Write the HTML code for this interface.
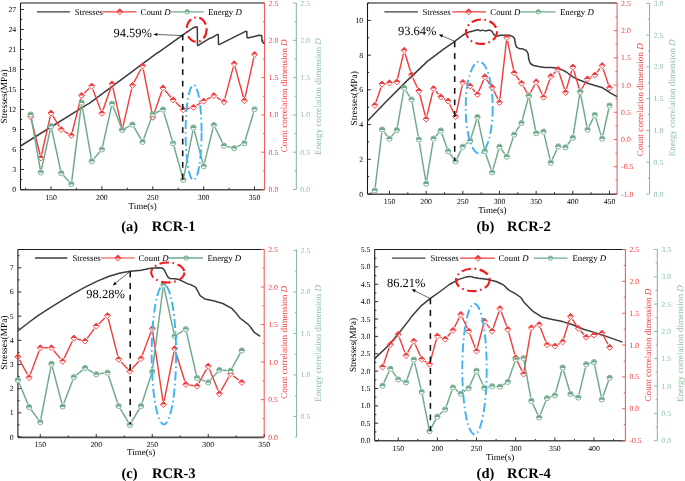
<!DOCTYPE html>
<html><head><meta charset="utf-8"><style>
html,body{margin:0;padding:0;background:#fff;}
body{width:685px;height:481px;overflow:hidden;}
svg{display:block;font-family:"Liberation Serif", serif;text-rendering:geometricPrecision;filter:blur(0.3px);}
</style></head><body>
<svg width="685" height="481" viewBox="0 0 685 481">
<rect width="685" height="481" fill="#fff"/>
<line x1="20.5" y1="3" x2="264.6" y2="3" stroke="#1a1a1a" stroke-width="1.1" />
<line x1="20.5" y1="189.7" x2="264.6" y2="189.7" stroke="#4a4a4a" stroke-width="1.6" />
<line x1="20.5" y1="3" x2="20.5" y2="189.5" stroke="#1a1a1a" stroke-width="1.1" />
<line x1="264.6" y1="3" x2="264.6" y2="189.5" stroke="#f05050" stroke-width="1" />
<line x1="296.3" y1="3" x2="296.3" y2="189.5" stroke="#80b598" stroke-width="1" />
<line x1="51.03" y1="189.5" x2="51.03" y2="186.3" stroke="#1a1a1a" stroke-width="0.9" />
<text x="51.03" y="199.5" font-size="7.8" fill="#000" text-anchor="middle" >150</text>
<line x1="101.9" y1="189.5" x2="101.9" y2="186.3" stroke="#1a1a1a" stroke-width="0.9" />
<text x="101.9" y="199.5" font-size="7.8" fill="#000" text-anchor="middle" >200</text>
<line x1="152.78" y1="189.5" x2="152.78" y2="186.3" stroke="#1a1a1a" stroke-width="0.9" />
<text x="152.78" y="199.5" font-size="7.8" fill="#000" text-anchor="middle" >250</text>
<line x1="203.65" y1="189.5" x2="203.65" y2="186.3" stroke="#1a1a1a" stroke-width="0.9" />
<text x="203.65" y="199.5" font-size="7.8" fill="#000" text-anchor="middle" >300</text>
<line x1="254.53" y1="189.5" x2="254.53" y2="186.3" stroke="#1a1a1a" stroke-width="0.9" />
<text x="254.53" y="199.5" font-size="7.8" fill="#000" text-anchor="middle" >350</text>
<line x1="25.59" y1="189.5" x2="25.59" y2="187.8" stroke="#1a1a1a" stroke-width="0.9" />
<line x1="76.46" y1="189.5" x2="76.46" y2="187.8" stroke="#1a1a1a" stroke-width="0.9" />
<line x1="127.34" y1="189.5" x2="127.34" y2="187.8" stroke="#1a1a1a" stroke-width="0.9" />
<line x1="178.21" y1="189.5" x2="178.21" y2="187.8" stroke="#1a1a1a" stroke-width="0.9" />
<line x1="229.09" y1="189.5" x2="229.09" y2="187.8" stroke="#1a1a1a" stroke-width="0.9" />
<line x1="20.5" y1="189.5" x2="23.9" y2="189.5" stroke="#1a1a1a" stroke-width="0.9" />
<text x="16.2" y="192" font-size="7.8" fill="#000" text-anchor="end" >0</text>
<line x1="20.5" y1="169.5" x2="23.9" y2="169.5" stroke="#1a1a1a" stroke-width="0.9" />
<text x="16.2" y="172" font-size="7.8" fill="#000" text-anchor="end" >3</text>
<line x1="20.5" y1="149.5" x2="23.9" y2="149.5" stroke="#1a1a1a" stroke-width="0.9" />
<text x="16.2" y="152" font-size="7.8" fill="#000" text-anchor="end" >6</text>
<line x1="20.5" y1="129.5" x2="23.9" y2="129.5" stroke="#1a1a1a" stroke-width="0.9" />
<text x="16.2" y="132" font-size="7.8" fill="#000" text-anchor="end" >9</text>
<line x1="20.5" y1="109.5" x2="23.9" y2="109.5" stroke="#1a1a1a" stroke-width="0.9" />
<text x="16.2" y="112" font-size="7.8" fill="#000" text-anchor="end" >12</text>
<line x1="20.5" y1="89.5" x2="23.9" y2="89.5" stroke="#1a1a1a" stroke-width="0.9" />
<text x="16.2" y="92" font-size="7.8" fill="#000" text-anchor="end" >15</text>
<line x1="20.5" y1="69.49" x2="23.9" y2="69.49" stroke="#1a1a1a" stroke-width="0.9" />
<text x="16.2" y="71.99" font-size="7.8" fill="#000" text-anchor="end" >18</text>
<line x1="20.5" y1="49.49" x2="23.9" y2="49.49" stroke="#1a1a1a" stroke-width="0.9" />
<text x="16.2" y="51.99" font-size="7.8" fill="#000" text-anchor="end" >21</text>
<line x1="20.5" y1="29.49" x2="23.9" y2="29.49" stroke="#1a1a1a" stroke-width="0.9" />
<text x="16.2" y="31.99" font-size="7.8" fill="#000" text-anchor="end" >24</text>
<line x1="20.5" y1="9.49" x2="23.9" y2="9.49" stroke="#1a1a1a" stroke-width="0.9" />
<text x="16.2" y="11.99" font-size="7.8" fill="#000" text-anchor="end" >27</text>
<line x1="20.5" y1="179.5" x2="22.2" y2="179.5" stroke="#1a1a1a" stroke-width="0.9" />
<line x1="20.5" y1="159.5" x2="22.2" y2="159.5" stroke="#1a1a1a" stroke-width="0.9" />
<line x1="20.5" y1="139.5" x2="22.2" y2="139.5" stroke="#1a1a1a" stroke-width="0.9" />
<line x1="20.5" y1="119.5" x2="22.2" y2="119.5" stroke="#1a1a1a" stroke-width="0.9" />
<line x1="20.5" y1="99.5" x2="22.2" y2="99.5" stroke="#1a1a1a" stroke-width="0.9" />
<line x1="20.5" y1="79.49" x2="22.2" y2="79.49" stroke="#1a1a1a" stroke-width="0.9" />
<line x1="20.5" y1="59.49" x2="22.2" y2="59.49" stroke="#1a1a1a" stroke-width="0.9" />
<line x1="20.5" y1="39.49" x2="22.2" y2="39.49" stroke="#1a1a1a" stroke-width="0.9" />
<line x1="20.5" y1="19.49" x2="22.2" y2="19.49" stroke="#1a1a1a" stroke-width="0.9" />
<line x1="264.6" y1="189.5" x2="261.2" y2="189.5" stroke="#f05050" stroke-width="0.9" />
<text x="268.6" y="192" font-size="7.8" fill="#f03c3c" text-anchor="start" >0.0</text>
<line x1="264.6" y1="152.2" x2="261.2" y2="152.2" stroke="#f05050" stroke-width="0.9" />
<text x="268.6" y="154.7" font-size="7.8" fill="#f03c3c" text-anchor="start" >0.5</text>
<line x1="264.6" y1="114.9" x2="261.2" y2="114.9" stroke="#f05050" stroke-width="0.9" />
<text x="268.6" y="117.4" font-size="7.8" fill="#f03c3c" text-anchor="start" >1.0</text>
<line x1="264.6" y1="77.6" x2="261.2" y2="77.6" stroke="#f05050" stroke-width="0.9" />
<text x="268.6" y="80.1" font-size="7.8" fill="#f03c3c" text-anchor="start" >1.5</text>
<line x1="264.6" y1="40.3" x2="261.2" y2="40.3" stroke="#f05050" stroke-width="0.9" />
<text x="268.6" y="42.8" font-size="7.8" fill="#f03c3c" text-anchor="start" >2.0</text>
<line x1="264.6" y1="3" x2="261.2" y2="3" stroke="#f05050" stroke-width="0.9" />
<text x="268.6" y="5.5" font-size="7.8" fill="#f03c3c" text-anchor="start" >2.5</text>
<line x1="264.6" y1="170.85" x2="262.9" y2="170.85" stroke="#f05050" stroke-width="0.9" />
<line x1="264.6" y1="133.55" x2="262.9" y2="133.55" stroke="#f05050" stroke-width="0.9" />
<line x1="264.6" y1="96.25" x2="262.9" y2="96.25" stroke="#f05050" stroke-width="0.9" />
<line x1="264.6" y1="58.95" x2="262.9" y2="58.95" stroke="#f05050" stroke-width="0.9" />
<line x1="264.6" y1="21.65" x2="262.9" y2="21.65" stroke="#f05050" stroke-width="0.9" />
<line x1="296.3" y1="189.5" x2="292.9" y2="189.5" stroke="#80b598" stroke-width="0.9" />
<text x="300.3" y="192" font-size="7.8" fill="#8cbfa3" text-anchor="start" >0.0</text>
<line x1="296.3" y1="152.2" x2="292.9" y2="152.2" stroke="#80b598" stroke-width="0.9" />
<text x="300.3" y="154.7" font-size="7.8" fill="#8cbfa3" text-anchor="start" >0.5</text>
<line x1="296.3" y1="114.9" x2="292.9" y2="114.9" stroke="#80b598" stroke-width="0.9" />
<text x="300.3" y="117.4" font-size="7.8" fill="#8cbfa3" text-anchor="start" >1.0</text>
<line x1="296.3" y1="77.6" x2="292.9" y2="77.6" stroke="#80b598" stroke-width="0.9" />
<text x="300.3" y="80.1" font-size="7.8" fill="#8cbfa3" text-anchor="start" >1.5</text>
<line x1="296.3" y1="40.3" x2="292.9" y2="40.3" stroke="#80b598" stroke-width="0.9" />
<text x="300.3" y="42.8" font-size="7.8" fill="#8cbfa3" text-anchor="start" >2.0</text>
<line x1="296.3" y1="3" x2="292.9" y2="3" stroke="#80b598" stroke-width="0.9" />
<text x="300.3" y="5.5" font-size="7.8" fill="#8cbfa3" text-anchor="start" >2.5</text>
<line x1="296.3" y1="170.85" x2="294.6" y2="170.85" stroke="#80b598" stroke-width="0.9" />
<line x1="296.3" y1="133.55" x2="294.6" y2="133.55" stroke="#80b598" stroke-width="0.9" />
<line x1="296.3" y1="96.25" x2="294.6" y2="96.25" stroke="#80b598" stroke-width="0.9" />
<line x1="296.3" y1="58.95" x2="294.6" y2="58.95" stroke="#80b598" stroke-width="0.9" />
<line x1="296.3" y1="21.65" x2="294.6" y2="21.65" stroke="#80b598" stroke-width="0.9" />
<text x="7.3" y="96.5" font-size="9.4" fill="#000" text-anchor="middle" transform="rotate(-90 7.3 96.5)">Stresses(MPa)</text>
<text x="142.7" y="208.7" font-size="9" fill="#000" text-anchor="middle" >Time(s)</text>
<text x="287" y="95.9" font-size="9.1" fill="#f03c3c" text-anchor="middle" transform="rotate(-90 287 95.9)">Count correlation dimension <tspan font-style="italic">D</tspan></text>
<text x="321" y="96.5" font-size="9.1" fill="#8cbfa3" text-anchor="middle" transform="rotate(-90 321 96.5)">Energy correlation dimension <tspan font-style="italic">D</tspan></text>
<polyline fill="none" stroke="#3c3c3c" stroke-width="1.5" stroke-linejoin="round" points="20.5,146 86.5,104.9 89.3,103.4 120,80.6 157.3,52.8 158.5,52.3 182.6,35.2 193.5,27.7 196.1,26.8 197.3,27.3 197.5,45.4 198.2,45.4 209.6,38.3 211.2,38.1 217.4,34.4 218.3,34.6 218.5,44.3 219.2,44.6 245.5,31.3 246.8,31.5 247,37.6 247.6,37.9 254.3,36.5 259,35.2 261.6,35.5 262.1,41.2 264.2,43.8"/>
<line x1="31.52" y1="120.4" x2="40.01" y2="154.5" stroke="#f03c3c" stroke-width="1.4" stroke-linecap="butt"/>
<line x1="41.62" y1="154.49" x2="50.25" y2="116.41" stroke="#f03c3c" stroke-width="1.4" stroke-linecap="butt"/>
<line x1="52.86" y1="115.98" x2="59.36" y2="126.52" stroke="#f03c3c" stroke-width="1.4" stroke-linecap="butt"/>
<line x1="64.23" y1="131.26" x2="68.35" y2="133.64" stroke="#f03c3c" stroke-width="1.4" stroke-linecap="butt"/>
<line x1="72.24" y1="132.01" x2="80.69" y2="98.79" stroke="#f03c3c" stroke-width="1.4" stroke-linecap="butt"/>
<line x1="84.13" y1="93.04" x2="89.14" y2="88.46" stroke="#f03c3c" stroke-width="1.4" stroke-linecap="butt"/>
<line x1="92.95" y1="89.38" x2="100.67" y2="110.02" stroke="#f03c3c" stroke-width="1.4" stroke-linecap="butt"/>
<line x1="103.04" y1="109.99" x2="110.93" y2="87.21" stroke="#f03c3c" stroke-width="1.4" stroke-linecap="butt"/>
<line x1="112.84" y1="87.32" x2="121.49" y2="126.08" stroke="#f03c3c" stroke-width="1.4" stroke-linecap="butt"/>
<line x1="123.04" y1="126.09" x2="131.64" y2="88.81" stroke="#f03c3c" stroke-width="1.4" stroke-linecap="butt"/>
<line x1="134.04" y1="82.3" x2="140.98" y2="69" stroke="#f03c3c" stroke-width="1.4" stroke-linecap="butt"/>
<line x1="143.28" y1="69.33" x2="152.09" y2="113.77" stroke="#f03c3c" stroke-width="1.4" stroke-linecap="butt"/>
<line x1="153.92" y1="113.89" x2="161.8" y2="91.21" stroke="#f03c3c" stroke-width="1.4" stroke-linecap="butt"/>
<line x1="165.21" y1="90.57" x2="170.86" y2="97.23" stroke="#f03c3c" stroke-width="1.4" stroke-linecap="butt"/>
<line x1="175.63" y1="102.34" x2="180.79" y2="107.36" stroke="#f03c3c" stroke-width="1.4" stroke-linecap="butt"/>
<line x1="186.7" y1="108.96" x2="190.08" y2="108.14" stroke="#f03c3c" stroke-width="1.4" stroke-linecap="butt"/>
<line x1="196.46" y1="105.48" x2="200.66" y2="102.92" stroke="#f03c3c" stroke-width="1.4" stroke-linecap="butt"/>
<line x1="206.73" y1="99.44" x2="210.75" y2="97.26" stroke="#f03c3c" stroke-width="1.4" stroke-linecap="butt"/>
<line x1="216.81" y1="97.42" x2="221.01" y2="99.98" stroke="#f03c3c" stroke-width="1.4" stroke-linecap="butt"/>
<line x1="224.9" y1="98.42" x2="233.27" y2="67.08" stroke="#f03c3c" stroke-width="1.4" stroke-linecap="butt"/>
<line x1="235.11" y1="67.07" x2="243.42" y2="97.23" stroke="#f03c3c" stroke-width="1.4" stroke-linecap="butt"/>
<line x1="245.1" y1="97.18" x2="253.77" y2="57.92" stroke="#f03c3c" stroke-width="1.4" stroke-linecap="butt"/>
<path d="M27.62 117L30.68 113.95L33.73 117Z" fill="#f03c3c"/>
<path d="M27.62 117L30.68 113.95L33.73 117L30.68 120.05Z" fill="none" stroke="#f03c3c" stroke-width="0.9"/>
<path d="M37.8 157.9L40.85 154.85L43.9 157.9Z" fill="#f03c3c"/>
<path d="M37.8 157.9L40.85 154.85L43.9 157.9L40.85 160.95Z" fill="none" stroke="#f03c3c" stroke-width="0.9"/>
<path d="M47.98 113L51.03 109.95L54.08 113Z" fill="#f03c3c"/>
<path d="M47.98 113L51.03 109.95L54.08 113L51.03 116.05Z" fill="none" stroke="#f03c3c" stroke-width="0.9"/>
<path d="M58.15 129.5L61.2 126.45L64.25 129.5Z" fill="#f03c3c"/>
<path d="M58.15 129.5L61.2 126.45L64.25 129.5L61.2 132.55Z" fill="none" stroke="#f03c3c" stroke-width="0.9"/>
<path d="M68.33 135.4L71.38 132.35L74.42 135.4Z" fill="#f03c3c"/>
<path d="M68.33 135.4L71.38 132.35L74.42 135.4L71.38 138.45Z" fill="none" stroke="#f03c3c" stroke-width="0.9"/>
<path d="M78.5 95.4L81.55 92.35L84.6 95.4Z" fill="#f03c3c"/>
<path d="M78.5 95.4L81.55 92.35L84.6 95.4L81.55 98.45Z" fill="none" stroke="#f03c3c" stroke-width="0.9"/>
<path d="M88.68 86.1L91.73 83.05L94.78 86.1Z" fill="#f03c3c"/>
<path d="M88.68 86.1L91.73 83.05L94.78 86.1L91.73 89.15Z" fill="none" stroke="#f03c3c" stroke-width="0.9"/>
<path d="M98.85 113.3L101.9 110.25L104.95 113.3Z" fill="#f03c3c"/>
<path d="M98.85 113.3L101.9 110.25L104.95 113.3L101.9 116.35Z" fill="none" stroke="#f03c3c" stroke-width="0.9"/>
<path d="M109.03 83.9L112.08 80.85L115.12 83.9Z" fill="#f03c3c"/>
<path d="M109.03 83.9L112.08 80.85L115.12 83.9L112.08 86.95Z" fill="none" stroke="#f03c3c" stroke-width="0.9"/>
<path d="M119.2 129.5L122.25 126.45L125.3 129.5Z" fill="#f03c3c"/>
<path d="M119.2 129.5L122.25 126.45L125.3 129.5L122.25 132.55Z" fill="none" stroke="#f03c3c" stroke-width="0.9"/>
<path d="M129.38 85.4L132.43 82.35L135.48 85.4Z" fill="#f03c3c"/>
<path d="M129.38 85.4L132.43 82.35L135.48 85.4L132.43 88.45Z" fill="none" stroke="#f03c3c" stroke-width="0.9"/>
<path d="M139.55 65.9L142.6 62.85L145.65 65.9Z" fill="#f03c3c"/>
<path d="M139.55 65.9L142.6 62.85L145.65 65.9L142.6 68.95Z" fill="none" stroke="#f03c3c" stroke-width="0.9"/>
<path d="M149.72 117.2L152.78 114.15L155.83 117.2Z" fill="#f03c3c"/>
<path d="M149.72 117.2L152.78 114.15L155.83 117.2L152.78 120.25Z" fill="none" stroke="#f03c3c" stroke-width="0.9"/>
<path d="M159.9 87.9L162.95 84.85L166 87.9Z" fill="#f03c3c"/>
<path d="M159.9 87.9L162.95 84.85L166 87.9L162.95 90.95Z" fill="none" stroke="#f03c3c" stroke-width="0.9"/>
<path d="M170.07 99.9L173.12 96.85L176.18 99.9Z" fill="#f03c3c"/>
<path d="M170.07 99.9L173.12 96.85L176.18 99.9L173.12 102.95Z" fill="none" stroke="#f03c3c" stroke-width="0.9"/>
<path d="M180.25 109.8L183.3 106.75L186.35 109.8Z" fill="#f03c3c"/>
<path d="M180.25 109.8L183.3 106.75L186.35 109.8L183.3 112.85Z" fill="none" stroke="#f03c3c" stroke-width="0.9"/>
<path d="M190.43 107.3L193.48 104.25L196.53 107.3Z" fill="#f03c3c"/>
<path d="M190.43 107.3L193.48 104.25L196.53 107.3L193.48 110.35Z" fill="none" stroke="#f03c3c" stroke-width="0.9"/>
<path d="M200.6 101.1L203.65 98.05L206.7 101.1Z" fill="#f03c3c"/>
<path d="M200.6 101.1L203.65 98.05L206.7 101.1L203.65 104.15Z" fill="none" stroke="#f03c3c" stroke-width="0.9"/>
<path d="M210.78 95.6L213.83 92.55L216.88 95.6Z" fill="#f03c3c"/>
<path d="M210.78 95.6L213.83 92.55L216.88 95.6L213.83 98.65Z" fill="none" stroke="#f03c3c" stroke-width="0.9"/>
<path d="M220.95 101.8L224 98.75L227.05 101.8Z" fill="#f03c3c"/>
<path d="M220.95 101.8L224 98.75L227.05 101.8L224 104.85Z" fill="none" stroke="#f03c3c" stroke-width="0.9"/>
<path d="M231.12 63.7L234.18 60.65L237.23 63.7Z" fill="#f03c3c"/>
<path d="M231.12 63.7L234.18 60.65L237.23 63.7L234.18 66.75Z" fill="none" stroke="#f03c3c" stroke-width="0.9"/>
<path d="M241.3 100.6L244.35 97.55L247.4 100.6Z" fill="#f03c3c"/>
<path d="M241.3 100.6L244.35 97.55L247.4 100.6L244.35 103.65Z" fill="none" stroke="#f03c3c" stroke-width="0.9"/>
<path d="M251.47 54.5L254.53 51.45L257.57 54.5Z" fill="#f03c3c"/>
<path d="M251.47 54.5L254.53 51.45L257.57 54.5L254.53 57.55Z" fill="none" stroke="#f03c3c" stroke-width="0.9"/>
<line x1="31.26" y1="117.85" x2="40.26" y2="169.05" stroke="#6fa98b" stroke-width="1.45" stroke-linecap="butt"/>
<line x1="41.58" y1="169.08" x2="50.29" y2="129.52" stroke="#6fa98b" stroke-width="1.45" stroke-linecap="butt"/>
<line x1="51.75" y1="129.52" x2="60.48" y2="169.78" stroke="#6fa98b" stroke-width="1.45" stroke-linecap="butt"/>
<line x1="63.51" y1="175.6" x2="69.07" y2="181.6" stroke="#6fa98b" stroke-width="1.45" stroke-linecap="butt"/>
<line x1="71.8" y1="180.73" x2="81.13" y2="105.87" stroke="#6fa98b" stroke-width="1.45" stroke-linecap="butt"/>
<line x1="82.13" y1="105.85" x2="91.14" y2="157.85" stroke="#6fa98b" stroke-width="1.45" stroke-linecap="butt"/>
<line x1="93.95" y1="158.63" x2="99.68" y2="151.97" stroke="#6fa98b" stroke-width="1.45" stroke-linecap="butt"/>
<line x1="102.64" y1="146.08" x2="111.34" y2="107.02" stroke="#6fa98b" stroke-width="1.45" stroke-linecap="butt"/>
<line x1="113.3" y1="106.87" x2="121.02" y2="126.83" stroke="#6fa98b" stroke-width="1.45" stroke-linecap="butt"/>
<line x1="125.24" y1="128.38" x2="129.43" y2="126.12" stroke="#6fa98b" stroke-width="1.45" stroke-linecap="butt"/>
<line x1="134.14" y1="127.44" x2="140.88" y2="138.96" stroke="#6fa98b" stroke-width="1.45" stroke-linecap="butt"/>
<line x1="143.77" y1="138.71" x2="151.6" y2="117.39" stroke="#6fa98b" stroke-width="1.45" stroke-linecap="butt"/>
<line x1="155.86" y1="112.77" x2="159.86" y2="110.93" stroke="#6fa98b" stroke-width="1.45" stroke-linecap="butt"/>
<line x1="163.93" y1="112.75" x2="172.14" y2="139.95" stroke="#6fa98b" stroke-width="1.45" stroke-linecap="butt"/>
<line x1="174.03" y1="146.48" x2="182.39" y2="176.62" stroke="#6fa98b" stroke-width="1.45" stroke-linecap="butt"/>
<line x1="183.95" y1="176.56" x2="192.83" y2="130.84" stroke="#6fa98b" stroke-width="1.45" stroke-linecap="butt"/>
<line x1="194.34" y1="130.79" x2="202.79" y2="162.91" stroke="#6fa98b" stroke-width="1.45" stroke-linecap="butt"/>
<line x1="204.47" y1="162.9" x2="213.01" y2="128.3" stroke="#6fa98b" stroke-width="1.45" stroke-linecap="butt"/>
<line x1="215.32" y1="128.05" x2="222.5" y2="142.65" stroke="#6fa98b" stroke-width="1.45" stroke-linecap="butt"/>
<line x1="227.3" y1="146.51" x2="230.87" y2="147.39" stroke="#6fa98b" stroke-width="1.45" stroke-linecap="butt"/>
<line x1="237.23" y1="146.7" x2="241.3" y2="144.7" stroke="#6fa98b" stroke-width="1.45" stroke-linecap="butt"/>
<line x1="245.32" y1="139.94" x2="253.55" y2="112.46" stroke="#6fa98b" stroke-width="1.45" stroke-linecap="butt"/>
<circle cx="30.68" cy="114.5" r="2.6" fill="#fff" stroke="#6fa98b" stroke-width="0.9"/>
<path d="M28.07 114.9A2.6 2.6 0 0 1 33.27 114.9Z" fill="#6fa98b"/>
<circle cx="40.85" cy="172.4" r="2.6" fill="#fff" stroke="#6fa98b" stroke-width="0.9"/>
<path d="M38.25 172.8A2.6 2.6 0 0 1 43.45 172.8Z" fill="#6fa98b"/>
<circle cx="51.03" cy="126.2" r="2.6" fill="#fff" stroke="#6fa98b" stroke-width="0.9"/>
<path d="M48.43 126.6A2.6 2.6 0 0 1 53.63 126.6Z" fill="#6fa98b"/>
<circle cx="61.2" cy="173.1" r="2.6" fill="#fff" stroke="#6fa98b" stroke-width="0.9"/>
<path d="M58.6 173.5A2.6 2.6 0 0 1 63.8 173.5Z" fill="#6fa98b"/>
<circle cx="71.38" cy="184.1" r="2.6" fill="#fff" stroke="#6fa98b" stroke-width="0.9"/>
<path d="M68.78 184.5A2.6 2.6 0 0 1 73.97 184.5Z" fill="#6fa98b"/>
<circle cx="81.55" cy="102.5" r="2.6" fill="#fff" stroke="#6fa98b" stroke-width="0.9"/>
<path d="M78.95 102.9A2.6 2.6 0 0 1 84.15 102.9Z" fill="#6fa98b"/>
<circle cx="91.73" cy="161.2" r="2.6" fill="#fff" stroke="#6fa98b" stroke-width="0.9"/>
<path d="M89.13 161.6A2.6 2.6 0 0 1 94.33 161.6Z" fill="#6fa98b"/>
<circle cx="101.9" cy="149.4" r="2.6" fill="#fff" stroke="#6fa98b" stroke-width="0.9"/>
<path d="M99.3 149.8A2.6 2.6 0 0 1 104.5 149.8Z" fill="#6fa98b"/>
<circle cx="112.08" cy="103.7" r="2.6" fill="#fff" stroke="#6fa98b" stroke-width="0.9"/>
<path d="M109.48 104.1A2.6 2.6 0 0 1 114.67 104.1Z" fill="#6fa98b"/>
<circle cx="122.25" cy="130" r="2.6" fill="#fff" stroke="#6fa98b" stroke-width="0.9"/>
<path d="M119.65 130.4A2.6 2.6 0 0 1 124.85 130.4Z" fill="#6fa98b"/>
<circle cx="132.43" cy="124.5" r="2.6" fill="#fff" stroke="#6fa98b" stroke-width="0.9"/>
<path d="M129.83 124.9A2.6 2.6 0 0 1 135.03 124.9Z" fill="#6fa98b"/>
<circle cx="142.6" cy="141.9" r="2.6" fill="#fff" stroke="#6fa98b" stroke-width="0.9"/>
<path d="M140 142.3A2.6 2.6 0 0 1 145.2 142.3Z" fill="#6fa98b"/>
<circle cx="152.78" cy="114.2" r="2.6" fill="#fff" stroke="#6fa98b" stroke-width="0.9"/>
<path d="M150.18 114.6A2.6 2.6 0 0 1 155.38 114.6Z" fill="#6fa98b"/>
<circle cx="162.95" cy="109.5" r="2.6" fill="#fff" stroke="#6fa98b" stroke-width="0.9"/>
<path d="M160.35 109.9A2.6 2.6 0 0 1 165.55 109.9Z" fill="#6fa98b"/>
<circle cx="173.12" cy="143.2" r="2.6" fill="#fff" stroke="#6fa98b" stroke-width="0.9"/>
<path d="M170.53 143.6A2.6 2.6 0 0 1 175.72 143.6Z" fill="#6fa98b"/>
<circle cx="183.3" cy="179.9" r="2.6" fill="#fff" stroke="#6fa98b" stroke-width="0.9"/>
<path d="M180.7 180.3A2.6 2.6 0 0 1 185.9 180.3Z" fill="#6fa98b"/>
<circle cx="193.48" cy="127.5" r="2.6" fill="#fff" stroke="#6fa98b" stroke-width="0.9"/>
<path d="M190.88 127.9A2.6 2.6 0 0 1 196.08 127.9Z" fill="#6fa98b"/>
<circle cx="203.65" cy="166.2" r="2.6" fill="#fff" stroke="#6fa98b" stroke-width="0.9"/>
<path d="M201.05 166.6A2.6 2.6 0 0 1 206.25 166.6Z" fill="#6fa98b"/>
<circle cx="213.83" cy="125" r="2.6" fill="#fff" stroke="#6fa98b" stroke-width="0.9"/>
<path d="M211.23 125.4A2.6 2.6 0 0 1 216.43 125.4Z" fill="#6fa98b"/>
<circle cx="224" cy="145.7" r="2.6" fill="#fff" stroke="#6fa98b" stroke-width="0.9"/>
<path d="M221.4 146.1A2.6 2.6 0 0 1 226.6 146.1Z" fill="#6fa98b"/>
<circle cx="234.18" cy="148.2" r="2.6" fill="#fff" stroke="#6fa98b" stroke-width="0.9"/>
<path d="M231.58 148.6A2.6 2.6 0 0 1 236.78 148.6Z" fill="#6fa98b"/>
<circle cx="244.35" cy="143.2" r="2.6" fill="#fff" stroke="#6fa98b" stroke-width="0.9"/>
<path d="M241.75 143.6A2.6 2.6 0 0 1 246.95 143.6Z" fill="#6fa98b"/>
<circle cx="254.53" cy="109.2" r="2.6" fill="#fff" stroke="#6fa98b" stroke-width="0.9"/>
<path d="M251.93 109.6A2.6 2.6 0 0 1 257.12 109.6Z" fill="#6fa98b"/>
<line x1="182.7" y1="34.4" x2="182.7" y2="180" stroke="#111" stroke-width="1.55" stroke-dasharray="5.8 5.8"/>
<line x1="182.5" y1="35.6" x2="157.3" y2="34.48" stroke="#000" stroke-width="0.6" />
<path d="M153.3 34.3L157.37 32.88L157.22 36.08Z" fill="#000"/>
<text x="113.4" y="37.2" font-size="12.5" fill="#000" text-anchor="start" >94.59%</text>
<ellipse cx="196.6" cy="29.6" rx="10" ry="12.2" fill="none" stroke="#ee1c1c" stroke-width="2.1" stroke-dasharray="9.5 3.6 1.6 3.6"/>
<ellipse cx="193.6" cy="132.5" rx="8" ry="47.5" fill="none" stroke="#3cb4f0" stroke-width="1.9" stroke-dasharray="9 3.2 1.6 3.2"/>
<line x1="37" y1="11.8" x2="70" y2="11.8" stroke="#3c3c3c" stroke-width="1.3" />
<text x="74.7" y="14.8" font-size="8.8" fill="#000" text-anchor="start" >Stresses</text>
<line x1="103" y1="11.8" x2="136.5" y2="11.8" stroke="#f03c3c" stroke-width="1.2" />
<path d="M116.65 11.8L119.7 8.75L122.75 11.8Z" fill="#f03c3c"/>
<path d="M116.65 11.8L119.7 8.75L122.75 11.8L119.7 14.85Z" fill="none" stroke="#f03c3c" stroke-width="0.9"/>
<text x="140.6" y="14.8" font-size="8.8" fill="#000" text-anchor="start" >Count <tspan font-style="italic">D</tspan></text>
<line x1="171.2" y1="11.8" x2="203.7" y2="11.8" stroke="#6fa98b" stroke-width="1.3" />
<circle cx="187.2" cy="11.8" r="2.2" fill="#fff" stroke="#6fa98b" stroke-width="0.9"/>
<path d="M185 12.2A2.2 2.2 0 0 1 189.4 12.2Z" fill="#6fa98b"/>
<text x="208" y="14.8" font-size="8.8" fill="#000" text-anchor="start" >Energy <tspan font-style="italic">D</tspan></text>
<text x="121.2" y="231" font-size="14.5" fill="#000" text-anchor="start" font-weight="bold" >(a)</text>
<text x="151.7" y="231" font-size="14.6" fill="#000" text-anchor="start" font-weight="bold" >RCR-1</text>
<line x1="367.5" y1="3" x2="617.1" y2="3" stroke="#1a1a1a" stroke-width="1.1" />
<line x1="367.5" y1="194.2" x2="617.1" y2="194.2" stroke="#4a4a4a" stroke-width="1.6" />
<line x1="367.5" y1="3" x2="367.5" y2="194" stroke="#1a1a1a" stroke-width="1.1" />
<line x1="617.1" y1="3" x2="617.1" y2="194" stroke="#f05050" stroke-width="1" />
<line x1="649.6" y1="3" x2="649.6" y2="194" stroke="#80b598" stroke-width="1" />
<line x1="389.5" y1="194" x2="389.5" y2="190.8" stroke="#1a1a1a" stroke-width="0.9" />
<text x="389.5" y="204" font-size="7.8" fill="#000" text-anchor="middle" >150</text>
<line x1="426.16" y1="194" x2="426.16" y2="190.8" stroke="#1a1a1a" stroke-width="0.9" />
<text x="426.16" y="204" font-size="7.8" fill="#000" text-anchor="middle" >200</text>
<line x1="462.83" y1="194" x2="462.83" y2="190.8" stroke="#1a1a1a" stroke-width="0.9" />
<text x="462.83" y="204" font-size="7.8" fill="#000" text-anchor="middle" >250</text>
<line x1="499.49" y1="194" x2="499.49" y2="190.8" stroke="#1a1a1a" stroke-width="0.9" />
<text x="499.49" y="204" font-size="7.8" fill="#000" text-anchor="middle" >300</text>
<line x1="536.16" y1="194" x2="536.16" y2="190.8" stroke="#1a1a1a" stroke-width="0.9" />
<text x="536.16" y="204" font-size="7.8" fill="#000" text-anchor="middle" >350</text>
<line x1="572.82" y1="194" x2="572.82" y2="190.8" stroke="#1a1a1a" stroke-width="0.9" />
<text x="572.82" y="204" font-size="7.8" fill="#000" text-anchor="middle" >400</text>
<line x1="609.49" y1="194" x2="609.49" y2="190.8" stroke="#1a1a1a" stroke-width="0.9" />
<text x="609.49" y="204" font-size="7.8" fill="#000" text-anchor="middle" >450</text>
<line x1="371.17" y1="194" x2="371.17" y2="192.3" stroke="#1a1a1a" stroke-width="0.9" />
<line x1="407.83" y1="194" x2="407.83" y2="192.3" stroke="#1a1a1a" stroke-width="0.9" />
<line x1="444.5" y1="194" x2="444.5" y2="192.3" stroke="#1a1a1a" stroke-width="0.9" />
<line x1="481.16" y1="194" x2="481.16" y2="192.3" stroke="#1a1a1a" stroke-width="0.9" />
<line x1="517.83" y1="194" x2="517.83" y2="192.3" stroke="#1a1a1a" stroke-width="0.9" />
<line x1="554.49" y1="194" x2="554.49" y2="192.3" stroke="#1a1a1a" stroke-width="0.9" />
<line x1="591.16" y1="194" x2="591.16" y2="192.3" stroke="#1a1a1a" stroke-width="0.9" />
<line x1="367.5" y1="194" x2="370.9" y2="194" stroke="#1a1a1a" stroke-width="0.9" />
<text x="363.2" y="196.5" font-size="7.8" fill="#000" text-anchor="end" >0</text>
<line x1="367.5" y1="159.28" x2="370.9" y2="159.28" stroke="#1a1a1a" stroke-width="0.9" />
<text x="363.2" y="161.78" font-size="7.8" fill="#000" text-anchor="end" >2</text>
<line x1="367.5" y1="124.56" x2="370.9" y2="124.56" stroke="#1a1a1a" stroke-width="0.9" />
<text x="363.2" y="127.06" font-size="7.8" fill="#000" text-anchor="end" >4</text>
<line x1="367.5" y1="89.84" x2="370.9" y2="89.84" stroke="#1a1a1a" stroke-width="0.9" />
<text x="363.2" y="92.34" font-size="7.8" fill="#000" text-anchor="end" >6</text>
<line x1="367.5" y1="55.12" x2="370.9" y2="55.12" stroke="#1a1a1a" stroke-width="0.9" />
<text x="363.2" y="57.62" font-size="7.8" fill="#000" text-anchor="end" >8</text>
<line x1="367.5" y1="20.4" x2="370.9" y2="20.4" stroke="#1a1a1a" stroke-width="0.9" />
<text x="363.2" y="22.9" font-size="7.8" fill="#000" text-anchor="end" >10</text>
<line x1="367.5" y1="176.64" x2="369.2" y2="176.64" stroke="#1a1a1a" stroke-width="0.9" />
<line x1="367.5" y1="141.92" x2="369.2" y2="141.92" stroke="#1a1a1a" stroke-width="0.9" />
<line x1="367.5" y1="107.2" x2="369.2" y2="107.2" stroke="#1a1a1a" stroke-width="0.9" />
<line x1="367.5" y1="72.48" x2="369.2" y2="72.48" stroke="#1a1a1a" stroke-width="0.9" />
<line x1="367.5" y1="37.76" x2="369.2" y2="37.76" stroke="#1a1a1a" stroke-width="0.9" />
<line x1="367.5" y1="3.04" x2="369.2" y2="3.04" stroke="#1a1a1a" stroke-width="0.9" />
<line x1="617.1" y1="194" x2="613.7" y2="194" stroke="#f05050" stroke-width="0.9" />
<text x="621.1" y="196.5" font-size="7.8" fill="#f03c3c" text-anchor="start" >-1.0</text>
<line x1="617.1" y1="166.77" x2="613.7" y2="166.77" stroke="#f05050" stroke-width="0.9" />
<text x="621.1" y="169.27" font-size="7.8" fill="#f03c3c" text-anchor="start" >-0.5</text>
<line x1="617.1" y1="139.54" x2="613.7" y2="139.54" stroke="#f05050" stroke-width="0.9" />
<text x="621.1" y="142.04" font-size="7.8" fill="#f03c3c" text-anchor="start" >0.0</text>
<line x1="617.1" y1="112.31" x2="613.7" y2="112.31" stroke="#f05050" stroke-width="0.9" />
<text x="621.1" y="114.81" font-size="7.8" fill="#f03c3c" text-anchor="start" >0.5</text>
<line x1="617.1" y1="85.08" x2="613.7" y2="85.08" stroke="#f05050" stroke-width="0.9" />
<text x="621.1" y="87.58" font-size="7.8" fill="#f03c3c" text-anchor="start" >1.0</text>
<line x1="617.1" y1="57.85" x2="613.7" y2="57.85" stroke="#f05050" stroke-width="0.9" />
<text x="621.1" y="60.35" font-size="7.8" fill="#f03c3c" text-anchor="start" >1.5</text>
<line x1="617.1" y1="30.62" x2="613.7" y2="30.62" stroke="#f05050" stroke-width="0.9" />
<text x="621.1" y="33.12" font-size="7.8" fill="#f03c3c" text-anchor="start" >2.0</text>
<line x1="617.1" y1="3.39" x2="613.7" y2="3.39" stroke="#f05050" stroke-width="0.9" />
<text x="621.1" y="5.89" font-size="7.8" fill="#f03c3c" text-anchor="start" >2.5</text>
<line x1="617.1" y1="180.38" x2="615.4" y2="180.38" stroke="#f05050" stroke-width="0.9" />
<line x1="617.1" y1="153.16" x2="615.4" y2="153.16" stroke="#f05050" stroke-width="0.9" />
<line x1="617.1" y1="125.92" x2="615.4" y2="125.92" stroke="#f05050" stroke-width="0.9" />
<line x1="617.1" y1="98.69" x2="615.4" y2="98.69" stroke="#f05050" stroke-width="0.9" />
<line x1="617.1" y1="71.47" x2="615.4" y2="71.47" stroke="#f05050" stroke-width="0.9" />
<line x1="617.1" y1="44.23" x2="615.4" y2="44.23" stroke="#f05050" stroke-width="0.9" />
<line x1="617.1" y1="17" x2="615.4" y2="17" stroke="#f05050" stroke-width="0.9" />
<line x1="649.6" y1="194" x2="646.2" y2="194" stroke="#80b598" stroke-width="0.9" />
<text x="653.6" y="196.5" font-size="7.8" fill="#8cbfa3" text-anchor="start" >0.0</text>
<line x1="649.6" y1="162.22" x2="646.2" y2="162.22" stroke="#80b598" stroke-width="0.9" />
<text x="653.6" y="164.72" font-size="7.8" fill="#8cbfa3" text-anchor="start" >0.5</text>
<line x1="649.6" y1="130.45" x2="646.2" y2="130.45" stroke="#80b598" stroke-width="0.9" />
<text x="653.6" y="132.95" font-size="7.8" fill="#8cbfa3" text-anchor="start" >1.0</text>
<line x1="649.6" y1="98.68" x2="646.2" y2="98.68" stroke="#80b598" stroke-width="0.9" />
<text x="653.6" y="101.18" font-size="7.8" fill="#8cbfa3" text-anchor="start" >1.5</text>
<line x1="649.6" y1="66.9" x2="646.2" y2="66.9" stroke="#80b598" stroke-width="0.9" />
<text x="653.6" y="69.4" font-size="7.8" fill="#8cbfa3" text-anchor="start" >2.0</text>
<line x1="649.6" y1="35.12" x2="646.2" y2="35.12" stroke="#80b598" stroke-width="0.9" />
<text x="653.6" y="37.62" font-size="7.8" fill="#8cbfa3" text-anchor="start" >2.5</text>
<line x1="649.6" y1="3.35" x2="646.2" y2="3.35" stroke="#80b598" stroke-width="0.9" />
<text x="653.6" y="5.85" font-size="7.8" fill="#8cbfa3" text-anchor="start" >3.0</text>
<line x1="649.6" y1="178.11" x2="647.9" y2="178.11" stroke="#80b598" stroke-width="0.9" />
<line x1="649.6" y1="146.34" x2="647.9" y2="146.34" stroke="#80b598" stroke-width="0.9" />
<line x1="649.6" y1="114.56" x2="647.9" y2="114.56" stroke="#80b598" stroke-width="0.9" />
<line x1="649.6" y1="82.79" x2="647.9" y2="82.79" stroke="#80b598" stroke-width="0.9" />
<line x1="649.6" y1="51.01" x2="647.9" y2="51.01" stroke="#80b598" stroke-width="0.9" />
<line x1="649.6" y1="19.24" x2="647.9" y2="19.24" stroke="#80b598" stroke-width="0.9" />
<text x="356.6" y="98.3" font-size="9.4" fill="#000" text-anchor="middle" transform="rotate(-90 356.6 98.3)">Stresses(MPa)</text>
<text x="492.4" y="213" font-size="9" fill="#000" text-anchor="middle" >Time(s)</text>
<text x="643.1" y="99.7" font-size="9.1" fill="#f03c3c" text-anchor="middle" transform="rotate(-90 643.1 99.7)">Count correlation dimension <tspan font-style="italic">D</tspan></text>
<text x="675" y="97.8" font-size="9.1" fill="#8cbfa3" text-anchor="middle" transform="rotate(-90 675 97.8)">Energy correlation dimension <tspan font-style="italic">D</tspan></text>
<polyline fill="none" stroke="#3c3c3c" stroke-width="1.5" stroke-linejoin="round" points="367.5,121 385.8,101.9 406.6,81.1 427.4,61.4 444,48.9 454.4,41.6 465,33.7 469.2,31.9 475,30.4 478,29.7 480.1,30.9 482.3,30.1 485.3,30.9 489.6,30.1 491.8,31.2 494,34.8 497.1,35.9 501.2,35.2 509.6,35.2 512.7,36.4 514.5,38.5 515.3,43.2 516.3,46.8 518.9,48.4 523.1,49.1 526.2,50.5 528.1,53.6 528.8,59.3 530.3,63.5 533.5,65.5 538.7,66.6 544.9,67.4 551.7,67.5 556.4,68.1 562.2,69.9 566.3,72 570.4,75.2 575,78.1 577.4,79.2 589.1,83.7 602.6,87.8 610.7,93.2 617,96.7"/>
<line x1="375.98" y1="101.99" x2="381.02" y2="87.41" stroke="#f03c3c" stroke-width="1.4" stroke-linecap="butt"/>
<line x1="385.62" y1="83.53" x2="386.04" y2="83.47" stroke="#f03c3c" stroke-width="1.4" stroke-linecap="butt"/>
<line x1="392.97" y1="82.43" x2="393.36" y2="82.37" stroke="#f03c3c" stroke-width="1.4" stroke-linecap="butt"/>
<line x1="397.63" y1="78.49" x2="403.37" y2="53.81" stroke="#f03c3c" stroke-width="1.4" stroke-linecap="butt"/>
<line x1="405.17" y1="53.75" x2="410.49" y2="71.55" stroke="#f03c3c" stroke-width="1.4" stroke-linecap="butt"/>
<line x1="412.96" y1="78.08" x2="417.37" y2="87.72" stroke="#f03c3c" stroke-width="1.4" stroke-linecap="butt"/>
<line x1="419.71" y1="94.29" x2="425.28" y2="115.71" stroke="#f03c3c" stroke-width="1.4" stroke-linecap="butt"/>
<line x1="426.98" y1="115.7" x2="432.68" y2="92" stroke="#f03c3c" stroke-width="1.4" stroke-linecap="butt"/>
<line x1="435.81" y1="91.22" x2="438.51" y2="94.28" stroke="#f03c3c" stroke-width="1.4" stroke-linecap="butt"/>
<line x1="443.87" y1="98.64" x2="445.13" y2="99.36" stroke="#f03c3c" stroke-width="1.4" stroke-linecap="butt"/>
<line x1="449.67" y1="104.26" x2="453.99" y2="113.34" stroke="#f03c3c" stroke-width="1.4" stroke-linecap="butt"/>
<line x1="456.23" y1="113.08" x2="462.09" y2="85.82" stroke="#f03c3c" stroke-width="1.4" stroke-linecap="butt"/>
<line x1="465.95" y1="83.98" x2="467.04" y2="84.52" stroke="#f03c3c" stroke-width="1.4" stroke-linecap="butt"/>
<line x1="472.48" y1="88.72" x2="475.18" y2="91.78" stroke="#f03c3c" stroke-width="1.4" stroke-linecap="butt"/>
<line x1="478.85" y1="91.17" x2="483.48" y2="80.13" stroke="#f03c3c" stroke-width="1.4" stroke-linecap="butt"/>
<line x1="486.83" y1="79.77" x2="490.16" y2="84.53" stroke="#f03c3c" stroke-width="1.4" stroke-linecap="butt"/>
<line x1="493.7" y1="90.54" x2="497.96" y2="99.26" stroke="#f03c3c" stroke-width="1.4" stroke-linecap="butt"/>
<line x1="499.89" y1="98.92" x2="506.43" y2="40.98" stroke="#f03c3c" stroke-width="1.4" stroke-linecap="butt"/>
<line x1="507.54" y1="40.93" x2="513.45" y2="69.47" stroke="#f03c3c" stroke-width="1.4" stroke-linecap="butt"/>
<line x1="516.19" y1="75.75" x2="519.46" y2="80.35" stroke="#f03c3c" stroke-width="1.4" stroke-linecap="butt"/>
<line x1="523.24" y1="86.23" x2="527.08" y2="92.87" stroke="#f03c3c" stroke-width="1.4" stroke-linecap="butt"/>
<line x1="530.44" y1="92.79" x2="534.54" y2="84.91" stroke="#f03c3c" stroke-width="1.4" stroke-linecap="butt"/>
<line x1="537.66" y1="84.96" x2="541.99" y2="94.04" stroke="#f03c3c" stroke-width="1.4" stroke-linecap="butt"/>
<line x1="544.66" y1="93.9" x2="549.66" y2="79.7" stroke="#f03c3c" stroke-width="1.4" stroke-linecap="butt"/>
<line x1="553.36" y1="73.98" x2="555.63" y2="71.82" stroke="#f03c3c" stroke-width="1.4" stroke-linecap="butt"/>
<line x1="559.22" y1="72.73" x2="564.43" y2="89.07" stroke="#f03c3c" stroke-width="1.4" stroke-linecap="butt"/>
<line x1="566.46" y1="89.04" x2="571.85" y2="70.36" stroke="#f03c3c" stroke-width="1.4" stroke-linecap="butt"/>
<line x1="573.82" y1="70.36" x2="579.16" y2="88.44" stroke="#f03c3c" stroke-width="1.4" stroke-linecap="butt"/>
<line x1="581.89" y1="88.76" x2="585.76" y2="81.94" stroke="#f03c3c" stroke-width="1.4" stroke-linecap="butt"/>
<line x1="590.6" y1="77.29" x2="591.72" y2="76.71" stroke="#f03c3c" stroke-width="1.4" stroke-linecap="butt"/>
<line x1="596.96" y1="72.33" x2="600.02" y2="68.37" stroke="#f03c3c" stroke-width="1.4" stroke-linecap="butt"/>
<line x1="603.25" y1="68.92" x2="608.39" y2="84.48" stroke="#f03c3c" stroke-width="1.4" stroke-linecap="butt"/>
<path d="M371.78 105.3L374.83 102.25L377.88 105.3Z" fill="#f03c3c"/>
<path d="M371.78 105.3L374.83 102.25L377.88 105.3L374.83 108.35Z" fill="none" stroke="#f03c3c" stroke-width="0.9"/>
<path d="M379.12 84.1L382.17 81.05L385.22 84.1Z" fill="#f03c3c"/>
<path d="M379.12 84.1L382.17 81.05L385.22 84.1L382.17 87.15Z" fill="none" stroke="#f03c3c" stroke-width="0.9"/>
<path d="M386.45 82.9L389.5 79.85L392.55 82.9Z" fill="#f03c3c"/>
<path d="M386.45 82.9L389.5 79.85L392.55 82.9L389.5 85.95Z" fill="none" stroke="#f03c3c" stroke-width="0.9"/>
<path d="M393.78 81.9L396.83 78.85L399.88 81.9Z" fill="#f03c3c"/>
<path d="M393.78 81.9L396.83 78.85L399.88 81.9L396.83 84.95Z" fill="none" stroke="#f03c3c" stroke-width="0.9"/>
<path d="M401.12 50.4L404.17 47.35L407.22 50.4Z" fill="#f03c3c"/>
<path d="M401.12 50.4L404.17 47.35L407.22 50.4L404.17 53.45Z" fill="none" stroke="#f03c3c" stroke-width="0.9"/>
<path d="M408.45 74.9L411.5 71.85L414.55 74.9Z" fill="#f03c3c"/>
<path d="M408.45 74.9L411.5 71.85L414.55 74.9L411.5 77.95Z" fill="none" stroke="#f03c3c" stroke-width="0.9"/>
<path d="M415.78 90.9L418.83 87.85L421.88 90.9Z" fill="#f03c3c"/>
<path d="M415.78 90.9L418.83 87.85L421.88 90.9L418.83 93.95Z" fill="none" stroke="#f03c3c" stroke-width="0.9"/>
<path d="M423.11 119.1L426.16 116.05L429.21 119.1Z" fill="#f03c3c"/>
<path d="M423.11 119.1L426.16 116.05L429.21 119.1L426.16 122.15Z" fill="none" stroke="#f03c3c" stroke-width="0.9"/>
<path d="M430.45 88.6L433.5 85.55L436.55 88.6Z" fill="#f03c3c"/>
<path d="M430.45 88.6L433.5 85.55L436.55 88.6L433.5 91.65Z" fill="none" stroke="#f03c3c" stroke-width="0.9"/>
<path d="M437.78 96.9L440.83 93.85L443.88 96.9Z" fill="#f03c3c"/>
<path d="M437.78 96.9L440.83 93.85L443.88 96.9L440.83 99.95Z" fill="none" stroke="#f03c3c" stroke-width="0.9"/>
<path d="M445.11 101.1L448.16 98.05L451.21 101.1Z" fill="#f03c3c"/>
<path d="M445.11 101.1L448.16 98.05L451.21 101.1L448.16 104.15Z" fill="none" stroke="#f03c3c" stroke-width="0.9"/>
<path d="M452.45 116.5L455.5 113.45L458.55 116.5Z" fill="#f03c3c"/>
<path d="M452.45 116.5L455.5 113.45L458.55 116.5L455.5 119.55Z" fill="none" stroke="#f03c3c" stroke-width="0.9"/>
<path d="M459.78 82.4L462.83 79.35L465.88 82.4Z" fill="#f03c3c"/>
<path d="M459.78 82.4L462.83 79.35L465.88 82.4L462.83 85.45Z" fill="none" stroke="#f03c3c" stroke-width="0.9"/>
<path d="M467.11 86.1L470.16 83.05L473.21 86.1Z" fill="#f03c3c"/>
<path d="M467.11 86.1L470.16 83.05L473.21 86.1L470.16 89.15Z" fill="none" stroke="#f03c3c" stroke-width="0.9"/>
<path d="M474.44 94.4L477.5 91.35L480.55 94.4Z" fill="#f03c3c"/>
<path d="M474.44 94.4L477.5 91.35L480.55 94.4L477.5 97.45Z" fill="none" stroke="#f03c3c" stroke-width="0.9"/>
<path d="M481.78 76.9L484.83 73.85L487.88 76.9Z" fill="#f03c3c"/>
<path d="M481.78 76.9L484.83 73.85L487.88 76.9L484.83 79.95Z" fill="none" stroke="#f03c3c" stroke-width="0.9"/>
<path d="M489.11 87.4L492.16 84.35L495.21 87.4Z" fill="#f03c3c"/>
<path d="M489.11 87.4L492.16 84.35L495.21 87.4L492.16 90.45Z" fill="none" stroke="#f03c3c" stroke-width="0.9"/>
<path d="M496.44 102.4L499.49 99.35L502.54 102.4Z" fill="#f03c3c"/>
<path d="M496.44 102.4L499.49 99.35L502.54 102.4L499.49 105.45Z" fill="none" stroke="#f03c3c" stroke-width="0.9"/>
<path d="M503.78 37.5L506.83 34.45L509.88 37.5Z" fill="#f03c3c"/>
<path d="M503.78 37.5L506.83 34.45L509.88 37.5L506.83 40.55Z" fill="none" stroke="#f03c3c" stroke-width="0.9"/>
<path d="M511.11 72.9L514.16 69.85L517.21 72.9Z" fill="#f03c3c"/>
<path d="M511.11 72.9L514.16 69.85L517.21 72.9L514.16 75.95Z" fill="none" stroke="#f03c3c" stroke-width="0.9"/>
<path d="M518.44 83.2L521.49 80.15L524.54 83.2Z" fill="#f03c3c"/>
<path d="M518.44 83.2L521.49 80.15L524.54 83.2L521.49 86.25Z" fill="none" stroke="#f03c3c" stroke-width="0.9"/>
<path d="M525.78 95.9L528.83 92.85L531.88 95.9Z" fill="#f03c3c"/>
<path d="M525.78 95.9L528.83 92.85L531.88 95.9L528.83 98.95Z" fill="none" stroke="#f03c3c" stroke-width="0.9"/>
<path d="M533.11 81.8L536.16 78.75L539.21 81.8Z" fill="#f03c3c"/>
<path d="M533.11 81.8L536.16 78.75L539.21 81.8L536.16 84.85Z" fill="none" stroke="#f03c3c" stroke-width="0.9"/>
<path d="M540.44 97.2L543.49 94.15L546.54 97.2Z" fill="#f03c3c"/>
<path d="M540.44 97.2L543.49 94.15L546.54 97.2L543.49 100.25Z" fill="none" stroke="#f03c3c" stroke-width="0.9"/>
<path d="M547.78 76.4L550.83 73.35L553.88 76.4Z" fill="#f03c3c"/>
<path d="M547.78 76.4L550.83 73.35L553.88 76.4L550.83 79.45Z" fill="none" stroke="#f03c3c" stroke-width="0.9"/>
<path d="M555.11 69.4L558.16 66.35L561.21 69.4Z" fill="#f03c3c"/>
<path d="M555.11 69.4L558.16 66.35L561.21 69.4L558.16 72.45Z" fill="none" stroke="#f03c3c" stroke-width="0.9"/>
<path d="M562.44 92.4L565.49 89.35L568.54 92.4Z" fill="#f03c3c"/>
<path d="M562.44 92.4L565.49 89.35L568.54 92.4L565.49 95.45Z" fill="none" stroke="#f03c3c" stroke-width="0.9"/>
<path d="M569.77 67L572.82 63.95L575.87 67Z" fill="#f03c3c"/>
<path d="M569.77 67L572.82 63.95L575.87 67L572.82 70.05Z" fill="none" stroke="#f03c3c" stroke-width="0.9"/>
<path d="M577.11 91.8L580.16 88.75L583.21 91.8Z" fill="#f03c3c"/>
<path d="M577.11 91.8L580.16 88.75L583.21 91.8L580.16 94.85Z" fill="none" stroke="#f03c3c" stroke-width="0.9"/>
<path d="M584.44 78.9L587.49 75.85L590.54 78.9Z" fill="#f03c3c"/>
<path d="M584.44 78.9L587.49 75.85L590.54 78.9L587.49 81.95Z" fill="none" stroke="#f03c3c" stroke-width="0.9"/>
<path d="M591.77 75.1L594.82 72.05L597.87 75.1Z" fill="#f03c3c"/>
<path d="M591.77 75.1L594.82 72.05L597.87 75.1L594.82 78.15Z" fill="none" stroke="#f03c3c" stroke-width="0.9"/>
<path d="M599.11 65.6L602.16 62.55L605.21 65.6Z" fill="#f03c3c"/>
<path d="M599.11 65.6L602.16 62.55L605.21 65.6L602.16 68.65Z" fill="none" stroke="#f03c3c" stroke-width="0.9"/>
<path d="M606.44 87.8L609.49 84.75L612.54 87.8Z" fill="#f03c3c"/>
<path d="M606.44 87.8L609.49 84.75L612.54 87.8L609.49 90.85Z" fill="none" stroke="#f03c3c" stroke-width="0.9"/>
<line x1="375.24" y1="187.02" x2="381.76" y2="132.88" stroke="#6fa98b" stroke-width="1.45" stroke-linecap="butt"/>
<line x1="384.29" y1="132.16" x2="387.38" y2="136.04" stroke="#6fa98b" stroke-width="1.45" stroke-linecap="butt"/>
<line x1="391.69" y1="136.1" x2="394.64" y2="132.6" stroke="#6fa98b" stroke-width="1.45" stroke-linecap="butt"/>
<line x1="397.42" y1="126.65" x2="403.58" y2="91.25" stroke="#6fa98b" stroke-width="1.45" stroke-linecap="butt"/>
<line x1="405.99" y1="90.77" x2="409.67" y2="96.53" stroke="#6fa98b" stroke-width="1.45" stroke-linecap="butt"/>
<line x1="412.11" y1="102.74" x2="418.22" y2="136.06" stroke="#6fa98b" stroke-width="1.45" stroke-linecap="butt"/>
<line x1="419.39" y1="142.75" x2="425.61" y2="180.25" stroke="#6fa98b" stroke-width="1.45" stroke-linecap="butt"/>
<line x1="426.71" y1="180.24" x2="432.95" y2="142.06" stroke="#6fa98b" stroke-width="1.45" stroke-linecap="butt"/>
<line x1="435.76" y1="136.17" x2="438.56" y2="133.03" stroke="#6fa98b" stroke-width="1.45" stroke-linecap="butt"/>
<line x1="441.97" y1="133.7" x2="447.03" y2="148" stroke="#6fa98b" stroke-width="1.45" stroke-linecap="butt"/>
<line x1="450.15" y1="153.96" x2="453.51" y2="158.64" stroke="#6fa98b" stroke-width="1.45" stroke-linecap="butt"/>
<line x1="457.01" y1="158.36" x2="461.31" y2="149.74" stroke="#6fa98b" stroke-width="1.45" stroke-linecap="butt"/>
<line x1="465.46" y1="144.55" x2="467.53" y2="142.85" stroke="#6fa98b" stroke-width="1.45" stroke-linecap="butt"/>
<line x1="471.17" y1="137.45" x2="476.49" y2="120.25" stroke="#6fa98b" stroke-width="1.45" stroke-linecap="butt"/>
<line x1="478.21" y1="120.32" x2="484.12" y2="147.88" stroke="#6fa98b" stroke-width="1.45" stroke-linecap="butt"/>
<line x1="485.94" y1="154.41" x2="491.05" y2="169.19" stroke="#6fa98b" stroke-width="1.45" stroke-linecap="butt"/>
<line x1="493.09" y1="169.13" x2="498.56" y2="149.97" stroke="#6fa98b" stroke-width="1.45" stroke-linecap="butt"/>
<line x1="501.5" y1="149.44" x2="504.82" y2="153.96" stroke="#6fa98b" stroke-width="1.45" stroke-linecap="butt"/>
<line x1="507.9" y1="153.47" x2="513.09" y2="137.83" stroke="#6fa98b" stroke-width="1.45" stroke-linecap="butt"/>
<line x1="515.98" y1="131.73" x2="519.68" y2="125.87" stroke="#6fa98b" stroke-width="1.45" stroke-linecap="butt"/>
<line x1="522.38" y1="119.72" x2="527.94" y2="99.18" stroke="#6fa98b" stroke-width="1.45" stroke-linecap="butt"/>
<line x1="529.48" y1="99.24" x2="535.5" y2="129.86" stroke="#6fa98b" stroke-width="1.45" stroke-linecap="butt"/>
<line x1="539.48" y1="132.48" x2="540.17" y2="132.32" stroke="#6fa98b" stroke-width="1.45" stroke-linecap="butt"/>
<line x1="544.27" y1="134.91" x2="550.04" y2="159.39" stroke="#6fa98b" stroke-width="1.45" stroke-linecap="butt"/>
<line x1="552.22" y1="159.6" x2="556.76" y2="149.5" stroke="#6fa98b" stroke-width="1.45" stroke-linecap="butt"/>
<line x1="561.53" y1="146.81" x2="562.12" y2="146.89" stroke="#6fa98b" stroke-width="1.45" stroke-linecap="butt"/>
<line x1="567.57" y1="144.61" x2="570.75" y2="140.49" stroke="#6fa98b" stroke-width="1.45" stroke-linecap="butt"/>
<line x1="573.36" y1="134.44" x2="579.62" y2="95.16" stroke="#6fa98b" stroke-width="1.45" stroke-linecap="butt"/>
<line x1="580.8" y1="95.14" x2="586.84" y2="126.36" stroke="#6fa98b" stroke-width="1.45" stroke-linecap="butt"/>
<line x1="589" y1="126.65" x2="593.31" y2="117.95" stroke="#6fa98b" stroke-width="1.45" stroke-linecap="butt"/>
<line x1="595.83" y1="118.15" x2="601.15" y2="135.35" stroke="#6fa98b" stroke-width="1.45" stroke-linecap="butt"/>
<line x1="602.89" y1="135.28" x2="608.76" y2="108.72" stroke="#6fa98b" stroke-width="1.45" stroke-linecap="butt"/>
<circle cx="374.83" cy="190.4" r="2.6" fill="#fff" stroke="#6fa98b" stroke-width="0.9"/>
<path d="M372.23 190.8A2.6 2.6 0 0 1 377.43 190.8Z" fill="#6fa98b"/>
<circle cx="382.17" cy="129.5" r="2.6" fill="#fff" stroke="#6fa98b" stroke-width="0.9"/>
<path d="M379.57 129.9A2.6 2.6 0 0 1 384.77 129.9Z" fill="#6fa98b"/>
<circle cx="389.5" cy="138.7" r="2.6" fill="#fff" stroke="#6fa98b" stroke-width="0.9"/>
<path d="M386.9 139.1A2.6 2.6 0 0 1 392.1 139.1Z" fill="#6fa98b"/>
<circle cx="396.83" cy="130" r="2.6" fill="#fff" stroke="#6fa98b" stroke-width="0.9"/>
<path d="M394.23 130.4A2.6 2.6 0 0 1 399.43 130.4Z" fill="#6fa98b"/>
<circle cx="404.17" cy="87.9" r="2.6" fill="#fff" stroke="#6fa98b" stroke-width="0.9"/>
<path d="M401.56 88.3A2.6 2.6 0 0 1 406.77 88.3Z" fill="#6fa98b"/>
<circle cx="411.5" cy="99.4" r="2.6" fill="#fff" stroke="#6fa98b" stroke-width="0.9"/>
<path d="M408.9 99.8A2.6 2.6 0 0 1 414.1 99.8Z" fill="#6fa98b"/>
<circle cx="418.83" cy="139.4" r="2.6" fill="#fff" stroke="#6fa98b" stroke-width="0.9"/>
<path d="M416.23 139.8A2.6 2.6 0 0 1 421.43 139.8Z" fill="#6fa98b"/>
<circle cx="426.16" cy="183.6" r="2.6" fill="#fff" stroke="#6fa98b" stroke-width="0.9"/>
<path d="M423.56 184A2.6 2.6 0 0 1 428.76 184Z" fill="#6fa98b"/>
<circle cx="433.5" cy="138.7" r="2.6" fill="#fff" stroke="#6fa98b" stroke-width="0.9"/>
<path d="M430.9 139.1A2.6 2.6 0 0 1 436.1 139.1Z" fill="#6fa98b"/>
<circle cx="440.83" cy="130.5" r="2.6" fill="#fff" stroke="#6fa98b" stroke-width="0.9"/>
<path d="M438.23 130.9A2.6 2.6 0 0 1 443.43 130.9Z" fill="#6fa98b"/>
<circle cx="448.16" cy="151.2" r="2.6" fill="#fff" stroke="#6fa98b" stroke-width="0.9"/>
<path d="M445.56 151.6A2.6 2.6 0 0 1 450.76 151.6Z" fill="#6fa98b"/>
<circle cx="455.5" cy="161.4" r="2.6" fill="#fff" stroke="#6fa98b" stroke-width="0.9"/>
<path d="M452.9 161.8A2.6 2.6 0 0 1 458.1 161.8Z" fill="#6fa98b"/>
<circle cx="462.83" cy="146.7" r="2.6" fill="#fff" stroke="#6fa98b" stroke-width="0.9"/>
<path d="M460.23 147.1A2.6 2.6 0 0 1 465.43 147.1Z" fill="#6fa98b"/>
<circle cx="470.16" cy="140.7" r="2.6" fill="#fff" stroke="#6fa98b" stroke-width="0.9"/>
<path d="M467.56 141.1A2.6 2.6 0 0 1 472.76 141.1Z" fill="#6fa98b"/>
<circle cx="477.5" cy="117" r="2.6" fill="#fff" stroke="#6fa98b" stroke-width="0.9"/>
<path d="M474.89 117.4A2.6 2.6 0 0 1 480.1 117.4Z" fill="#6fa98b"/>
<circle cx="484.83" cy="151.2" r="2.6" fill="#fff" stroke="#6fa98b" stroke-width="0.9"/>
<path d="M482.23 151.6A2.6 2.6 0 0 1 487.43 151.6Z" fill="#6fa98b"/>
<circle cx="492.16" cy="172.4" r="2.6" fill="#fff" stroke="#6fa98b" stroke-width="0.9"/>
<path d="M489.56 172.8A2.6 2.6 0 0 1 494.76 172.8Z" fill="#6fa98b"/>
<circle cx="499.49" cy="146.7" r="2.6" fill="#fff" stroke="#6fa98b" stroke-width="0.9"/>
<path d="M496.89 147.1A2.6 2.6 0 0 1 502.09 147.1Z" fill="#6fa98b"/>
<circle cx="506.83" cy="156.7" r="2.6" fill="#fff" stroke="#6fa98b" stroke-width="0.9"/>
<path d="M504.23 157.1A2.6 2.6 0 0 1 509.43 157.1Z" fill="#6fa98b"/>
<circle cx="514.16" cy="134.6" r="2.6" fill="#fff" stroke="#6fa98b" stroke-width="0.9"/>
<path d="M511.56 135A2.6 2.6 0 0 1 516.76 135Z" fill="#6fa98b"/>
<circle cx="521.49" cy="123" r="2.6" fill="#fff" stroke="#6fa98b" stroke-width="0.9"/>
<path d="M518.89 123.4A2.6 2.6 0 0 1 524.09 123.4Z" fill="#6fa98b"/>
<circle cx="528.83" cy="95.9" r="2.6" fill="#fff" stroke="#6fa98b" stroke-width="0.9"/>
<path d="M526.23 96.3A2.6 2.6 0 0 1 531.43 96.3Z" fill="#6fa98b"/>
<circle cx="536.16" cy="133.2" r="2.6" fill="#fff" stroke="#6fa98b" stroke-width="0.9"/>
<path d="M533.56 133.6A2.6 2.6 0 0 1 538.76 133.6Z" fill="#6fa98b"/>
<circle cx="543.49" cy="131.6" r="2.6" fill="#fff" stroke="#6fa98b" stroke-width="0.9"/>
<path d="M540.89 132A2.6 2.6 0 0 1 546.09 132Z" fill="#6fa98b"/>
<circle cx="550.83" cy="162.7" r="2.6" fill="#fff" stroke="#6fa98b" stroke-width="0.9"/>
<path d="M548.23 163.1A2.6 2.6 0 0 1 553.43 163.1Z" fill="#6fa98b"/>
<circle cx="558.16" cy="146.4" r="2.6" fill="#fff" stroke="#6fa98b" stroke-width="0.9"/>
<path d="M555.56 146.8A2.6 2.6 0 0 1 560.76 146.8Z" fill="#6fa98b"/>
<circle cx="565.49" cy="147.3" r="2.6" fill="#fff" stroke="#6fa98b" stroke-width="0.9"/>
<path d="M562.89 147.7A2.6 2.6 0 0 1 568.09 147.7Z" fill="#6fa98b"/>
<circle cx="572.82" cy="137.8" r="2.6" fill="#fff" stroke="#6fa98b" stroke-width="0.9"/>
<path d="M570.22 138.2A2.6 2.6 0 0 1 575.42 138.2Z" fill="#6fa98b"/>
<circle cx="580.16" cy="91.8" r="2.6" fill="#fff" stroke="#6fa98b" stroke-width="0.9"/>
<path d="M577.56 92.2A2.6 2.6 0 0 1 582.76 92.2Z" fill="#6fa98b"/>
<circle cx="587.49" cy="129.7" r="2.6" fill="#fff" stroke="#6fa98b" stroke-width="0.9"/>
<path d="M584.89 130.1A2.6 2.6 0 0 1 590.09 130.1Z" fill="#6fa98b"/>
<circle cx="594.82" cy="114.9" r="2.6" fill="#fff" stroke="#6fa98b" stroke-width="0.9"/>
<path d="M592.22 115.3A2.6 2.6 0 0 1 597.42 115.3Z" fill="#6fa98b"/>
<circle cx="602.16" cy="138.6" r="2.6" fill="#fff" stroke="#6fa98b" stroke-width="0.9"/>
<path d="M599.56 139A2.6 2.6 0 0 1 604.76 139Z" fill="#6fa98b"/>
<circle cx="609.49" cy="105.4" r="2.6" fill="#fff" stroke="#6fa98b" stroke-width="0.9"/>
<path d="M606.89 105.8A2.6 2.6 0 0 1 612.09 105.8Z" fill="#6fa98b"/>
<line x1="454.7" y1="41.5" x2="454.7" y2="161" stroke="#111" stroke-width="1.55" stroke-dasharray="5.8 5.8"/>
<line x1="454.4" y1="41.2" x2="442.47" y2="36" stroke="#000" stroke-width="0.6" />
<path d="M438.8 34.4L443.11 34.53L441.83 37.47Z" fill="#000"/>
<text x="397.9" y="35.4" font-size="12.5" fill="#000" text-anchor="start" >93.64%</text>
<ellipse cx="481.5" cy="31.7" rx="15.5" ry="12.2" fill="none" stroke="#ee1c1c" stroke-width="2.1" stroke-dasharray="9.5 3.6 1.6 3.6"/>
<ellipse cx="479.2" cy="107.6" rx="13.5" ry="46" fill="none" stroke="#3cb4f0" stroke-width="1.9" stroke-dasharray="9 3.2 1.6 3.2"/>
<line x1="384.4" y1="11.8" x2="417.9" y2="11.8" stroke="#3c3c3c" stroke-width="1.3" />
<text x="422.4" y="14.8" font-size="8.8" fill="#000" text-anchor="start" >Stresses</text>
<line x1="452.3" y1="11.8" x2="486" y2="11.8" stroke="#f03c3c" stroke-width="1.2" />
<path d="M465.55 11.8L468.6 8.75L471.65 11.8Z" fill="#f03c3c"/>
<path d="M465.55 11.8L468.6 8.75L471.65 11.8L468.6 14.85Z" fill="none" stroke="#f03c3c" stroke-width="0.9"/>
<text x="490.3" y="14.8" font-size="8.8" fill="#000" text-anchor="start" >Count <tspan font-style="italic">D</tspan></text>
<line x1="520.3" y1="11.8" x2="555.4" y2="11.8" stroke="#6fa98b" stroke-width="1.3" />
<circle cx="538.3" cy="11.8" r="2.2" fill="#fff" stroke="#6fa98b" stroke-width="0.9"/>
<path d="M536.1 12.2A2.2 2.2 0 0 1 540.5 12.2Z" fill="#6fa98b"/>
<text x="560" y="14.8" font-size="8.8" fill="#000" text-anchor="start" >Energy <tspan font-style="italic">D</tspan></text>
<text x="476.6" y="230.9" font-size="14.5" fill="#000" text-anchor="start" font-weight="bold" >(b)</text>
<text x="507.1" y="230.9" font-size="14.6" fill="#000" text-anchor="start" font-weight="bold" >RCR-2</text>
<line x1="17.9" y1="249.5" x2="264.2" y2="249.5" stroke="#1a1a1a" stroke-width="1.1" />
<line x1="17.9" y1="437.4" x2="264.2" y2="437.4" stroke="#4a4a4a" stroke-width="1.6" />
<line x1="17.9" y1="249.5" x2="17.9" y2="437.2" stroke="#1a1a1a" stroke-width="1.1" />
<line x1="264.2" y1="249.5" x2="264.2" y2="437.2" stroke="#f05050" stroke-width="1" />
<line x1="296.6" y1="249.5" x2="296.6" y2="437.2" stroke="#80b598" stroke-width="1" />
<line x1="40.29" y1="437.2" x2="40.29" y2="434" stroke="#1a1a1a" stroke-width="0.9" />
<text x="40.29" y="447.2" font-size="7.8" fill="#000" text-anchor="middle" >150</text>
<line x1="96.26" y1="437.2" x2="96.26" y2="434" stroke="#1a1a1a" stroke-width="0.9" />
<text x="96.26" y="447.2" font-size="7.8" fill="#000" text-anchor="middle" >200</text>
<line x1="152.24" y1="437.2" x2="152.24" y2="434" stroke="#1a1a1a" stroke-width="0.9" />
<text x="152.24" y="447.2" font-size="7.8" fill="#000" text-anchor="middle" >250</text>
<line x1="208.22" y1="437.2" x2="208.22" y2="434" stroke="#1a1a1a" stroke-width="0.9" />
<text x="208.22" y="447.2" font-size="7.8" fill="#000" text-anchor="middle" >300</text>
<line x1="264.19" y1="437.2" x2="264.19" y2="434" stroke="#1a1a1a" stroke-width="0.9" />
<text x="264.19" y="447.2" font-size="7.8" fill="#000" text-anchor="middle" >350</text>
<line x1="68.28" y1="437.2" x2="68.28" y2="435.5" stroke="#1a1a1a" stroke-width="0.9" />
<line x1="124.25" y1="437.2" x2="124.25" y2="435.5" stroke="#1a1a1a" stroke-width="0.9" />
<line x1="180.23" y1="437.2" x2="180.23" y2="435.5" stroke="#1a1a1a" stroke-width="0.9" />
<line x1="236.2" y1="437.2" x2="236.2" y2="435.5" stroke="#1a1a1a" stroke-width="0.9" />
<line x1="17.9" y1="437" x2="21.3" y2="437" stroke="#1a1a1a" stroke-width="0.9" />
<text x="13.6" y="439.5" font-size="7.8" fill="#000" text-anchor="end" >0</text>
<line x1="17.9" y1="412.83" x2="21.3" y2="412.83" stroke="#1a1a1a" stroke-width="0.9" />
<text x="13.6" y="415.33" font-size="7.8" fill="#000" text-anchor="end" >1</text>
<line x1="17.9" y1="388.66" x2="21.3" y2="388.66" stroke="#1a1a1a" stroke-width="0.9" />
<text x="13.6" y="391.16" font-size="7.8" fill="#000" text-anchor="end" >2</text>
<line x1="17.9" y1="364.49" x2="21.3" y2="364.49" stroke="#1a1a1a" stroke-width="0.9" />
<text x="13.6" y="366.99" font-size="7.8" fill="#000" text-anchor="end" >3</text>
<line x1="17.9" y1="340.32" x2="21.3" y2="340.32" stroke="#1a1a1a" stroke-width="0.9" />
<text x="13.6" y="342.82" font-size="7.8" fill="#000" text-anchor="end" >4</text>
<line x1="17.9" y1="316.15" x2="21.3" y2="316.15" stroke="#1a1a1a" stroke-width="0.9" />
<text x="13.6" y="318.65" font-size="7.8" fill="#000" text-anchor="end" >5</text>
<line x1="17.9" y1="291.98" x2="21.3" y2="291.98" stroke="#1a1a1a" stroke-width="0.9" />
<text x="13.6" y="294.48" font-size="7.8" fill="#000" text-anchor="end" >6</text>
<line x1="17.9" y1="267.81" x2="21.3" y2="267.81" stroke="#1a1a1a" stroke-width="0.9" />
<text x="13.6" y="270.31" font-size="7.8" fill="#000" text-anchor="end" >7</text>
<line x1="17.9" y1="424.92" x2="19.6" y2="424.92" stroke="#1a1a1a" stroke-width="0.9" />
<line x1="17.9" y1="400.75" x2="19.6" y2="400.75" stroke="#1a1a1a" stroke-width="0.9" />
<line x1="17.9" y1="376.57" x2="19.6" y2="376.57" stroke="#1a1a1a" stroke-width="0.9" />
<line x1="17.9" y1="352.4" x2="19.6" y2="352.4" stroke="#1a1a1a" stroke-width="0.9" />
<line x1="17.9" y1="328.24" x2="19.6" y2="328.24" stroke="#1a1a1a" stroke-width="0.9" />
<line x1="17.9" y1="304.06" x2="19.6" y2="304.06" stroke="#1a1a1a" stroke-width="0.9" />
<line x1="17.9" y1="279.89" x2="19.6" y2="279.89" stroke="#1a1a1a" stroke-width="0.9" />
<line x1="17.9" y1="255.72" x2="19.6" y2="255.72" stroke="#1a1a1a" stroke-width="0.9" />
<line x1="264.2" y1="437.2" x2="260.8" y2="437.2" stroke="#f05050" stroke-width="0.9" />
<text x="268.2" y="439.7" font-size="7.8" fill="#f03c3c" text-anchor="start" >0.0</text>
<line x1="264.2" y1="399.65" x2="260.8" y2="399.65" stroke="#f05050" stroke-width="0.9" />
<text x="268.2" y="402.15" font-size="7.8" fill="#f03c3c" text-anchor="start" >0.5</text>
<line x1="264.2" y1="362.1" x2="260.8" y2="362.1" stroke="#f05050" stroke-width="0.9" />
<text x="268.2" y="364.6" font-size="7.8" fill="#f03c3c" text-anchor="start" >1.0</text>
<line x1="264.2" y1="324.55" x2="260.8" y2="324.55" stroke="#f05050" stroke-width="0.9" />
<text x="268.2" y="327.05" font-size="7.8" fill="#f03c3c" text-anchor="start" >1.5</text>
<line x1="264.2" y1="287" x2="260.8" y2="287" stroke="#f05050" stroke-width="0.9" />
<text x="268.2" y="289.5" font-size="7.8" fill="#f03c3c" text-anchor="start" >2.0</text>
<line x1="264.2" y1="249.45" x2="260.8" y2="249.45" stroke="#f05050" stroke-width="0.9" />
<text x="268.2" y="251.95" font-size="7.8" fill="#f03c3c" text-anchor="start" >2.5</text>
<line x1="264.2" y1="418.43" x2="262.5" y2="418.43" stroke="#f05050" stroke-width="0.9" />
<line x1="264.2" y1="380.88" x2="262.5" y2="380.88" stroke="#f05050" stroke-width="0.9" />
<line x1="264.2" y1="343.32" x2="262.5" y2="343.32" stroke="#f05050" stroke-width="0.9" />
<line x1="264.2" y1="305.77" x2="262.5" y2="305.77" stroke="#f05050" stroke-width="0.9" />
<line x1="264.2" y1="268.23" x2="262.5" y2="268.23" stroke="#f05050" stroke-width="0.9" />
<line x1="296.6" y1="416.4" x2="293.2" y2="416.4" stroke="#80b598" stroke-width="0.9" />
<text x="300.6" y="418.9" font-size="7.8" fill="#8cbfa3" text-anchor="start" >0.5</text>
<line x1="296.6" y1="374.9" x2="293.2" y2="374.9" stroke="#80b598" stroke-width="0.9" />
<text x="300.6" y="377.4" font-size="7.8" fill="#8cbfa3" text-anchor="start" >1.0</text>
<line x1="296.6" y1="333.4" x2="293.2" y2="333.4" stroke="#80b598" stroke-width="0.9" />
<text x="300.6" y="335.9" font-size="7.8" fill="#8cbfa3" text-anchor="start" >1.5</text>
<line x1="296.6" y1="291.9" x2="293.2" y2="291.9" stroke="#80b598" stroke-width="0.9" />
<text x="300.6" y="294.4" font-size="7.8" fill="#8cbfa3" text-anchor="start" >2.0</text>
<line x1="296.6" y1="250.4" x2="293.2" y2="250.4" stroke="#80b598" stroke-width="0.9" />
<text x="300.6" y="252.9" font-size="7.8" fill="#8cbfa3" text-anchor="start" >2.5</text>
<line x1="296.6" y1="395.65" x2="294.9" y2="395.65" stroke="#80b598" stroke-width="0.9" />
<line x1="296.6" y1="354.15" x2="294.9" y2="354.15" stroke="#80b598" stroke-width="0.9" />
<line x1="296.6" y1="312.65" x2="294.9" y2="312.65" stroke="#80b598" stroke-width="0.9" />
<line x1="296.6" y1="271.15" x2="294.9" y2="271.15" stroke="#80b598" stroke-width="0.9" />
<line x1="296.6" y1="437.15" x2="294.9" y2="437.15" stroke="#80b598" stroke-width="0.9" />
<text x="6.8" y="342.6" font-size="9.4" fill="#000" text-anchor="middle" transform="rotate(-90 6.8 342.6)">Stresses(MPa)</text>
<text x="141.2" y="455.4" font-size="9" fill="#000" text-anchor="middle" >Time(s)</text>
<text x="287.2" y="342.3" font-size="9.1" fill="#f03c3c" text-anchor="middle" transform="rotate(-90 287.2 342.3)">Count correlation dimension <tspan font-style="italic">D</tspan></text>
<text x="320.6" y="343.4" font-size="9.1" fill="#8cbfa3" text-anchor="middle" transform="rotate(-90 320.6 343.4)">Energy correlation dimension <tspan font-style="italic">D</tspan></text>
<polyline fill="none" stroke="#3c3c3c" stroke-width="1.5" stroke-linejoin="round" points="17.9,331 28,323 38.4,315.3 50,307.8 61.7,300.6 73.4,293.7 85.1,287.2 96.8,281.4 108.5,276.5 120.1,273 130.3,271.3 141.2,270.2 150.5,268.3 158,267.7 162.2,267.9 164.5,270.2 166.5,274.5 168,277.2 170,278.5 175,278.8 178.7,279.4 187.4,283.7 190,284.4 195.5,287.2 197.8,291.1 200.1,295.7 204.8,298.9 213.4,300.7 222.8,303.5 232.1,308.7 236,312.9 239.9,318 248.5,324.6 251.6,328.5 254,332.1 260.2,336.3"/>
<line x1="19.56" y1="359.88" x2="27.44" y2="374.52" stroke="#f03c3c" stroke-width="1.4" stroke-linecap="butt"/>
<line x1="30.33" y1="374.32" x2="39.06" y2="351.08" stroke="#f03c3c" stroke-width="1.4" stroke-linecap="butt"/>
<line x1="43.79" y1="347.8" x2="47.98" y2="347.8" stroke="#f03c3c" stroke-width="1.4" stroke-linecap="butt"/>
<line x1="53.72" y1="350.49" x2="60.45" y2="358.61" stroke="#f03c3c" stroke-width="1.4" stroke-linecap="butt"/>
<line x1="64.2" y1="358.15" x2="72.35" y2="341.25" stroke="#f03c3c" stroke-width="1.4" stroke-linecap="butt"/>
<line x1="77.26" y1="339.01" x2="81.69" y2="340.19" stroke="#f03c3c" stroke-width="1.4" stroke-linecap="butt"/>
<line x1="87.16" y1="338.3" x2="94.17" y2="328.9" stroke="#f03c3c" stroke-width="1.4" stroke-linecap="butt"/>
<line x1="98.82" y1="323.71" x2="104.91" y2="317.99" stroke="#f03c3c" stroke-width="1.4" stroke-linecap="butt"/>
<line x1="108.33" y1="318.99" x2="117.79" y2="355.91" stroke="#f03c3c" stroke-width="1.4" stroke-linecap="butt"/>
<line x1="121.04" y1="361.86" x2="127.46" y2="368.74" stroke="#f03c3c" stroke-width="1.4" stroke-linecap="butt"/>
<line x1="132.16" y1="368.67" x2="138.73" y2="361.23" stroke="#f03c3c" stroke-width="1.4" stroke-linecap="butt"/>
<line x1="142.27" y1="355.32" x2="151.02" y2="331.88" stroke="#f03c3c" stroke-width="1.4" stroke-linecap="butt"/>
<line x1="152.75" y1="332.06" x2="162.92" y2="400.94" stroke="#f03c3c" stroke-width="1.4" stroke-linecap="butt"/>
<line x1="164.12" y1="400.97" x2="173.94" y2="352.13" stroke="#f03c3c" stroke-width="1.4" stroke-linecap="butt"/>
<line x1="175.68" y1="352.04" x2="184.78" y2="381.06" stroke="#f03c3c" stroke-width="1.4" stroke-linecap="butt"/>
<line x1="189.28" y1="384.96" x2="193.56" y2="385.64" stroke="#f03c3c" stroke-width="1.4" stroke-linecap="butt"/>
<line x1="198.73" y1="383.15" x2="206.51" y2="369.25" stroke="#f03c3c" stroke-width="1.4" stroke-linecap="butt"/>
<line x1="209.53" y1="369.44" x2="218.09" y2="390.46" stroke="#f03c3c" stroke-width="1.4" stroke-linecap="butt"/>
<line x1="221.12" y1="390.65" x2="228.9" y2="376.75" stroke="#f03c3c" stroke-width="1.4" stroke-linecap="butt"/>
<line x1="233.37" y1="375.85" x2="239.04" y2="380.25" stroke="#f03c3c" stroke-width="1.4" stroke-linecap="butt"/>
<path d="M14.85 356.8L17.9 353.75L20.95 356.8Z" fill="#f03c3c"/>
<path d="M14.85 356.8L17.9 353.75L20.95 356.8L17.9 359.85Z" fill="none" stroke="#f03c3c" stroke-width="0.9"/>
<path d="M26.04 377.6L29.09 374.55L32.14 377.6Z" fill="#f03c3c"/>
<path d="M26.04 377.6L29.09 374.55L32.14 377.6L29.09 380.65Z" fill="none" stroke="#f03c3c" stroke-width="0.9"/>
<path d="M37.24 347.8L40.29 344.75L43.34 347.8Z" fill="#f03c3c"/>
<path d="M37.24 347.8L40.29 344.75L43.34 347.8L40.29 350.85Z" fill="none" stroke="#f03c3c" stroke-width="0.9"/>
<path d="M48.44 347.8L51.48 344.75L54.53 347.8Z" fill="#f03c3c"/>
<path d="M48.44 347.8L51.48 344.75L54.53 347.8L51.48 350.85Z" fill="none" stroke="#f03c3c" stroke-width="0.9"/>
<path d="M59.63 361.3L62.68 358.25L65.73 361.3Z" fill="#f03c3c"/>
<path d="M59.63 361.3L62.68 358.25L65.73 361.3L62.68 364.35Z" fill="none" stroke="#f03c3c" stroke-width="0.9"/>
<path d="M70.83 338.1L73.88 335.05L76.92 338.1Z" fill="#f03c3c"/>
<path d="M70.83 338.1L73.88 335.05L76.92 338.1L73.88 341.15Z" fill="none" stroke="#f03c3c" stroke-width="0.9"/>
<path d="M82.02 341.1L85.07 338.05L88.12 341.1Z" fill="#f03c3c"/>
<path d="M82.02 341.1L85.07 338.05L88.12 341.1L85.07 344.15Z" fill="none" stroke="#f03c3c" stroke-width="0.9"/>
<path d="M93.21 326.1L96.26 323.05L99.31 326.1Z" fill="#f03c3c"/>
<path d="M93.21 326.1L96.26 323.05L99.31 326.1L96.26 329.15Z" fill="none" stroke="#f03c3c" stroke-width="0.9"/>
<path d="M104.41 315.6L107.46 312.55L110.51 315.6Z" fill="#f03c3c"/>
<path d="M104.41 315.6L107.46 312.55L110.51 315.6L107.46 318.65Z" fill="none" stroke="#f03c3c" stroke-width="0.9"/>
<path d="M115.61 359.3L118.66 356.25L121.7 359.3Z" fill="#f03c3c"/>
<path d="M115.61 359.3L118.66 356.25L121.7 359.3L118.66 362.35Z" fill="none" stroke="#f03c3c" stroke-width="0.9"/>
<path d="M126.8 371.3L129.85 368.25L132.9 371.3Z" fill="#f03c3c"/>
<path d="M126.8 371.3L129.85 368.25L132.9 371.3L129.85 374.35Z" fill="none" stroke="#f03c3c" stroke-width="0.9"/>
<path d="M137.99 358.6L141.04 355.55L144.09 358.6Z" fill="#f03c3c"/>
<path d="M137.99 358.6L141.04 355.55L144.09 358.6L141.04 361.65Z" fill="none" stroke="#f03c3c" stroke-width="0.9"/>
<path d="M149.19 328.6L152.24 325.55L155.29 328.6Z" fill="#f03c3c"/>
<path d="M149.19 328.6L152.24 325.55L155.29 328.6L152.24 331.65Z" fill="none" stroke="#f03c3c" stroke-width="0.9"/>
<path d="M160.38 404.4L163.44 401.35L166.49 404.4Z" fill="#f03c3c"/>
<path d="M160.38 404.4L163.44 401.35L166.49 404.4L163.44 407.45Z" fill="none" stroke="#f03c3c" stroke-width="0.9"/>
<path d="M171.58 348.7L174.63 345.65L177.68 348.7Z" fill="#f03c3c"/>
<path d="M171.58 348.7L174.63 345.65L177.68 348.7L174.63 351.75Z" fill="none" stroke="#f03c3c" stroke-width="0.9"/>
<path d="M182.77 384.4L185.82 381.35L188.88 384.4Z" fill="#f03c3c"/>
<path d="M182.77 384.4L185.82 381.35L188.88 384.4L185.82 387.45Z" fill="none" stroke="#f03c3c" stroke-width="0.9"/>
<path d="M193.97 386.2L197.02 383.15L200.07 386.2Z" fill="#f03c3c"/>
<path d="M193.97 386.2L197.02 383.15L200.07 386.2L197.02 389.25Z" fill="none" stroke="#f03c3c" stroke-width="0.9"/>
<path d="M205.16 366.2L208.22 363.15L211.27 366.2Z" fill="#f03c3c"/>
<path d="M205.16 366.2L208.22 363.15L211.27 366.2L208.22 369.25Z" fill="none" stroke="#f03c3c" stroke-width="0.9"/>
<path d="M216.36 393.7L219.41 390.65L222.46 393.7Z" fill="#f03c3c"/>
<path d="M216.36 393.7L219.41 390.65L222.46 393.7L219.41 396.75Z" fill="none" stroke="#f03c3c" stroke-width="0.9"/>
<path d="M227.55 373.7L230.6 370.65L233.66 373.7Z" fill="#f03c3c"/>
<path d="M227.55 373.7L230.6 370.65L233.66 373.7L230.6 376.75Z" fill="none" stroke="#f03c3c" stroke-width="0.9"/>
<path d="M238.75 382.4L241.8 379.35L244.85 382.4Z" fill="#f03c3c"/>
<path d="M238.75 382.4L241.8 379.35L244.85 382.4L241.8 385.45Z" fill="none" stroke="#f03c3c" stroke-width="0.9"/>
<line x1="19.21" y1="383.24" x2="27.79" y2="403.86" stroke="#6fa98b" stroke-width="1.45" stroke-linecap="butt"/>
<line x1="31.12" y1="409.73" x2="38.27" y2="419.37" stroke="#6fa98b" stroke-width="1.45" stroke-linecap="butt"/>
<line x1="40.93" y1="418.76" x2="50.84" y2="367.14" stroke="#6fa98b" stroke-width="1.45" stroke-linecap="butt"/>
<line x1="52.35" y1="367.09" x2="61.82" y2="403.21" stroke="#6fa98b" stroke-width="1.45" stroke-linecap="butt"/>
<line x1="63.89" y1="403.32" x2="72.67" y2="380.28" stroke="#6fa98b" stroke-width="1.45" stroke-linecap="butt"/>
<line x1="76.51" y1="374.96" x2="82.43" y2="370.14" stroke="#6fa98b" stroke-width="1.45" stroke-linecap="butt"/>
<line x1="88.03" y1="369.67" x2="93.3" y2="372.63" stroke="#6fa98b" stroke-width="1.45" stroke-linecap="butt"/>
<line x1="99.63" y1="373.79" x2="104.1" y2="373.11" stroke="#6fa98b" stroke-width="1.45" stroke-linecap="butt"/>
<line x1="108.54" y1="375.82" x2="117.57" y2="402.78" stroke="#6fa98b" stroke-width="1.45" stroke-linecap="butt"/>
<line x1="120.39" y1="408.93" x2="128.12" y2="421.97" stroke="#6fa98b" stroke-width="1.45" stroke-linecap="butt"/>
<line x1="131.58" y1="421.97" x2="139.31" y2="408.93" stroke="#6fa98b" stroke-width="1.45" stroke-linecap="butt"/>
<line x1="142.1" y1="402.77" x2="151.18" y2="375.03" stroke="#6fa98b" stroke-width="1.45" stroke-linecap="butt"/>
<line x1="152.67" y1="368.43" x2="163" y2="288.27" stroke="#6fa98b" stroke-width="1.45" stroke-linecap="butt"/>
<line x1="164.16" y1="288.22" x2="173.9" y2="332.78" stroke="#6fa98b" stroke-width="1.45" stroke-linecap="butt"/>
<line x1="177.51" y1="334.3" x2="182.94" y2="330.9" stroke="#6fa98b" stroke-width="1.45" stroke-linecap="butt"/>
<line x1="186.59" y1="332.41" x2="196.26" y2="374.59" stroke="#6fa98b" stroke-width="1.45" stroke-linecap="butt"/>
<line x1="200.17" y1="379.17" x2="205.06" y2="381.13" stroke="#6fa98b" stroke-width="1.45" stroke-linecap="butt"/>
<line x1="210.49" y1="379.88" x2="217.13" y2="372.52" stroke="#6fa98b" stroke-width="1.45" stroke-linecap="butt"/>
<line x1="222.8" y1="370.21" x2="227.21" y2="370.49" stroke="#6fa98b" stroke-width="1.45" stroke-linecap="butt"/>
<line x1="232.25" y1="367.73" x2="240.15" y2="353.47" stroke="#6fa98b" stroke-width="1.45" stroke-linecap="butt"/>
<circle cx="17.9" cy="380.1" r="2.6" fill="#fff" stroke="#6fa98b" stroke-width="0.9"/>
<path d="M15.3 380.5A2.6 2.6 0 0 1 20.5 380.5Z" fill="#6fa98b"/>
<circle cx="29.09" cy="407" r="2.6" fill="#fff" stroke="#6fa98b" stroke-width="0.9"/>
<path d="M26.49 407.4A2.6 2.6 0 0 1 31.7 407.4Z" fill="#6fa98b"/>
<circle cx="40.29" cy="422.1" r="2.6" fill="#fff" stroke="#6fa98b" stroke-width="0.9"/>
<path d="M37.69 422.5A2.6 2.6 0 0 1 42.89 422.5Z" fill="#6fa98b"/>
<circle cx="51.48" cy="363.8" r="2.6" fill="#fff" stroke="#6fa98b" stroke-width="0.9"/>
<path d="M48.88 364.2A2.6 2.6 0 0 1 54.09 364.2Z" fill="#6fa98b"/>
<circle cx="62.68" cy="406.5" r="2.6" fill="#fff" stroke="#6fa98b" stroke-width="0.9"/>
<path d="M60.08 406.9A2.6 2.6 0 0 1 65.28 406.9Z" fill="#6fa98b"/>
<circle cx="73.88" cy="377.1" r="2.6" fill="#fff" stroke="#6fa98b" stroke-width="0.9"/>
<path d="M71.28 377.5A2.6 2.6 0 0 1 76.47 377.5Z" fill="#6fa98b"/>
<circle cx="85.07" cy="368" r="2.6" fill="#fff" stroke="#6fa98b" stroke-width="0.9"/>
<path d="M82.47 368.4A2.6 2.6 0 0 1 87.67 368.4Z" fill="#6fa98b"/>
<circle cx="96.26" cy="374.3" r="2.6" fill="#fff" stroke="#6fa98b" stroke-width="0.9"/>
<path d="M93.66 374.7A2.6 2.6 0 0 1 98.86 374.7Z" fill="#6fa98b"/>
<circle cx="107.46" cy="372.6" r="2.6" fill="#fff" stroke="#6fa98b" stroke-width="0.9"/>
<path d="M104.86 373A2.6 2.6 0 0 1 110.06 373Z" fill="#6fa98b"/>
<circle cx="118.66" cy="406" r="2.6" fill="#fff" stroke="#6fa98b" stroke-width="0.9"/>
<path d="M116.06 406.4A2.6 2.6 0 0 1 121.25 406.4Z" fill="#6fa98b"/>
<circle cx="129.85" cy="424.9" r="2.6" fill="#fff" stroke="#6fa98b" stroke-width="0.9"/>
<path d="M127.25 425.3A2.6 2.6 0 0 1 132.45 425.3Z" fill="#6fa98b"/>
<circle cx="141.04" cy="406" r="2.6" fill="#fff" stroke="#6fa98b" stroke-width="0.9"/>
<path d="M138.44 406.4A2.6 2.6 0 0 1 143.64 406.4Z" fill="#6fa98b"/>
<circle cx="152.24" cy="371.8" r="2.6" fill="#fff" stroke="#6fa98b" stroke-width="0.9"/>
<path d="M149.64 372.2A2.6 2.6 0 0 1 154.84 372.2Z" fill="#6fa98b"/>
<circle cx="163.44" cy="284.9" r="2.6" fill="#fff" stroke="#6fa98b" stroke-width="0.9"/>
<path d="M160.84 285.3A2.6 2.6 0 0 1 166.03 285.3Z" fill="#6fa98b"/>
<circle cx="174.63" cy="336.1" r="2.6" fill="#fff" stroke="#6fa98b" stroke-width="0.9"/>
<path d="M172.03 336.5A2.6 2.6 0 0 1 177.23 336.5Z" fill="#6fa98b"/>
<circle cx="185.82" cy="329.1" r="2.6" fill="#fff" stroke="#6fa98b" stroke-width="0.9"/>
<path d="M183.22 329.5A2.6 2.6 0 0 1 188.42 329.5Z" fill="#6fa98b"/>
<circle cx="197.02" cy="377.9" r="2.6" fill="#fff" stroke="#6fa98b" stroke-width="0.9"/>
<path d="M194.42 378.3A2.6 2.6 0 0 1 199.62 378.3Z" fill="#6fa98b"/>
<circle cx="208.22" cy="382.4" r="2.6" fill="#fff" stroke="#6fa98b" stroke-width="0.9"/>
<path d="M205.62 382.8A2.6 2.6 0 0 1 210.81 382.8Z" fill="#6fa98b"/>
<circle cx="219.41" cy="370" r="2.6" fill="#fff" stroke="#6fa98b" stroke-width="0.9"/>
<path d="M216.81 370.4A2.6 2.6 0 0 1 222.01 370.4Z" fill="#6fa98b"/>
<circle cx="230.6" cy="370.7" r="2.6" fill="#fff" stroke="#6fa98b" stroke-width="0.9"/>
<path d="M228 371.1A2.6 2.6 0 0 1 233.2 371.1Z" fill="#6fa98b"/>
<circle cx="241.8" cy="350.5" r="2.6" fill="#fff" stroke="#6fa98b" stroke-width="0.9"/>
<path d="M239.2 350.9A2.6 2.6 0 0 1 244.4 350.9Z" fill="#6fa98b"/>
<line x1="130.2" y1="271.5" x2="130.2" y2="424" stroke="#111" stroke-width="1.55" stroke-dasharray="5.8 5.8"/>
<line x1="129.5" y1="271.8" x2="115.81" y2="282.88" stroke="#000" stroke-width="0.6" />
<path d="M112.7 285.4L114.8 281.64L116.82 284.13Z" fill="#000"/>
<text x="86.3" y="297.5" font-size="12.5" fill="#000" text-anchor="start" >98.28%</text>
<ellipse cx="167.8" cy="272.5" rx="16.6" ry="10" fill="none" stroke="#ee1c1c" stroke-width="2.1" stroke-dasharray="9.5 3.6 1.6 3.6"/>
<ellipse cx="163.9" cy="354.5" rx="12.2" ry="69.9" fill="none" stroke="#3cb4f0" stroke-width="1.9" stroke-dasharray="9 3.2 1.6 3.2"/>
<line x1="35" y1="258" x2="67.4" y2="258" stroke="#3c3c3c" stroke-width="1.3" />
<text x="72.4" y="261" font-size="8.8" fill="#000" text-anchor="start" >Stresses</text>
<line x1="101.1" y1="258" x2="134.8" y2="258" stroke="#f03c3c" stroke-width="1.2" />
<path d="M114.75 258L117.8 254.95L120.85 258Z" fill="#f03c3c"/>
<path d="M114.75 258L117.8 254.95L120.85 258L117.8 261.05Z" fill="none" stroke="#f03c3c" stroke-width="0.9"/>
<text x="138.5" y="261" font-size="8.8" fill="#000" text-anchor="start" >Count <tspan font-style="italic">D</tspan></text>
<line x1="168.7" y1="258" x2="202.9" y2="258" stroke="#6fa98b" stroke-width="1.3" />
<circle cx="186.2" cy="258" r="2.2" fill="#fff" stroke="#6fa98b" stroke-width="0.9"/>
<path d="M184 258.4A2.2 2.2 0 0 1 188.4 258.4Z" fill="#6fa98b"/>
<text x="207.4" y="261" font-size="8.8" fill="#000" text-anchor="start" >Energy <tspan font-style="italic">D</tspan></text>
<text x="121.4" y="477.7" font-size="14.5" fill="#000" text-anchor="start" font-weight="bold" >(c)</text>
<text x="151.9" y="477.7" font-size="14.6" fill="#000" text-anchor="start" font-weight="bold" >RCR-3</text>
<line x1="374.7" y1="249.5" x2="625.4" y2="249.5" stroke="#1a1a1a" stroke-width="1.1" />
<line x1="374.7" y1="440.8" x2="625.4" y2="440.8" stroke="#4a4a4a" stroke-width="1.6" />
<line x1="374.7" y1="249.5" x2="374.7" y2="440.6" stroke="#1a1a1a" stroke-width="1.1" />
<line x1="625.4" y1="249.5" x2="625.4" y2="440.6" stroke="#f05050" stroke-width="1" />
<line x1="657.3" y1="249.5" x2="657.3" y2="440.6" stroke="#80b598" stroke-width="1" />
<line x1="398.2" y1="440.6" x2="398.2" y2="437.4" stroke="#1a1a1a" stroke-width="0.9" />
<text x="398.2" y="450.6" font-size="7.8" fill="#000" text-anchor="middle" >150</text>
<line x1="437.36" y1="440.6" x2="437.36" y2="437.4" stroke="#1a1a1a" stroke-width="0.9" />
<text x="437.36" y="450.6" font-size="7.8" fill="#000" text-anchor="middle" >200</text>
<line x1="476.52" y1="440.6" x2="476.52" y2="437.4" stroke="#1a1a1a" stroke-width="0.9" />
<text x="476.52" y="450.6" font-size="7.8" fill="#000" text-anchor="middle" >250</text>
<line x1="515.68" y1="440.6" x2="515.68" y2="437.4" stroke="#1a1a1a" stroke-width="0.9" />
<text x="515.68" y="450.6" font-size="7.8" fill="#000" text-anchor="middle" >300</text>
<line x1="554.84" y1="440.6" x2="554.84" y2="437.4" stroke="#1a1a1a" stroke-width="0.9" />
<text x="554.84" y="450.6" font-size="7.8" fill="#000" text-anchor="middle" >350</text>
<line x1="594" y1="440.6" x2="594" y2="437.4" stroke="#1a1a1a" stroke-width="0.9" />
<text x="594" y="450.6" font-size="7.8" fill="#000" text-anchor="middle" >400</text>
<line x1="378.62" y1="440.6" x2="378.62" y2="438.9" stroke="#1a1a1a" stroke-width="0.9" />
<line x1="417.78" y1="440.6" x2="417.78" y2="438.9" stroke="#1a1a1a" stroke-width="0.9" />
<line x1="456.94" y1="440.6" x2="456.94" y2="438.9" stroke="#1a1a1a" stroke-width="0.9" />
<line x1="496.1" y1="440.6" x2="496.1" y2="438.9" stroke="#1a1a1a" stroke-width="0.9" />
<line x1="535.26" y1="440.6" x2="535.26" y2="438.9" stroke="#1a1a1a" stroke-width="0.9" />
<line x1="574.42" y1="440.6" x2="574.42" y2="438.9" stroke="#1a1a1a" stroke-width="0.9" />
<line x1="613.58" y1="440.6" x2="613.58" y2="438.9" stroke="#1a1a1a" stroke-width="0.9" />
<line x1="374.7" y1="440.6" x2="378.1" y2="440.6" stroke="#1a1a1a" stroke-width="0.9" />
<text x="370.4" y="443.1" font-size="7.8" fill="#000" text-anchor="end" >0.0</text>
<line x1="374.7" y1="423.23" x2="378.1" y2="423.23" stroke="#1a1a1a" stroke-width="0.9" />
<text x="370.4" y="425.73" font-size="7.8" fill="#000" text-anchor="end" >0.5</text>
<line x1="374.7" y1="405.86" x2="378.1" y2="405.86" stroke="#1a1a1a" stroke-width="0.9" />
<text x="370.4" y="408.36" font-size="7.8" fill="#000" text-anchor="end" >1.0</text>
<line x1="374.7" y1="388.49" x2="378.1" y2="388.49" stroke="#1a1a1a" stroke-width="0.9" />
<text x="370.4" y="390.99" font-size="7.8" fill="#000" text-anchor="end" >1.5</text>
<line x1="374.7" y1="371.12" x2="378.1" y2="371.12" stroke="#1a1a1a" stroke-width="0.9" />
<text x="370.4" y="373.62" font-size="7.8" fill="#000" text-anchor="end" >2.0</text>
<line x1="374.7" y1="353.75" x2="378.1" y2="353.75" stroke="#1a1a1a" stroke-width="0.9" />
<text x="370.4" y="356.25" font-size="7.8" fill="#000" text-anchor="end" >2.5</text>
<line x1="374.7" y1="336.38" x2="378.1" y2="336.38" stroke="#1a1a1a" stroke-width="0.9" />
<text x="370.4" y="338.88" font-size="7.8" fill="#000" text-anchor="end" >3.0</text>
<line x1="374.7" y1="319.01" x2="378.1" y2="319.01" stroke="#1a1a1a" stroke-width="0.9" />
<text x="370.4" y="321.51" font-size="7.8" fill="#000" text-anchor="end" >3.5</text>
<line x1="374.7" y1="301.64" x2="378.1" y2="301.64" stroke="#1a1a1a" stroke-width="0.9" />
<text x="370.4" y="304.14" font-size="7.8" fill="#000" text-anchor="end" >4.0</text>
<line x1="374.7" y1="284.27" x2="378.1" y2="284.27" stroke="#1a1a1a" stroke-width="0.9" />
<text x="370.4" y="286.77" font-size="7.8" fill="#000" text-anchor="end" >4.5</text>
<line x1="374.7" y1="266.9" x2="378.1" y2="266.9" stroke="#1a1a1a" stroke-width="0.9" />
<text x="370.4" y="269.4" font-size="7.8" fill="#000" text-anchor="end" >5.0</text>
<line x1="374.7" y1="249.53" x2="378.1" y2="249.53" stroke="#1a1a1a" stroke-width="0.9" />
<text x="370.4" y="252.03" font-size="7.8" fill="#000" text-anchor="end" >5.5</text>
<line x1="374.7" y1="431.92" x2="376.4" y2="431.92" stroke="#1a1a1a" stroke-width="0.9" />
<line x1="374.7" y1="414.55" x2="376.4" y2="414.55" stroke="#1a1a1a" stroke-width="0.9" />
<line x1="374.7" y1="397.18" x2="376.4" y2="397.18" stroke="#1a1a1a" stroke-width="0.9" />
<line x1="374.7" y1="379.81" x2="376.4" y2="379.81" stroke="#1a1a1a" stroke-width="0.9" />
<line x1="374.7" y1="362.44" x2="376.4" y2="362.44" stroke="#1a1a1a" stroke-width="0.9" />
<line x1="374.7" y1="345.06" x2="376.4" y2="345.06" stroke="#1a1a1a" stroke-width="0.9" />
<line x1="374.7" y1="327.7" x2="376.4" y2="327.7" stroke="#1a1a1a" stroke-width="0.9" />
<line x1="374.7" y1="310.33" x2="376.4" y2="310.33" stroke="#1a1a1a" stroke-width="0.9" />
<line x1="374.7" y1="292.96" x2="376.4" y2="292.96" stroke="#1a1a1a" stroke-width="0.9" />
<line x1="374.7" y1="275.59" x2="376.4" y2="275.59" stroke="#1a1a1a" stroke-width="0.9" />
<line x1="374.7" y1="258.22" x2="376.4" y2="258.22" stroke="#1a1a1a" stroke-width="0.9" />
<line x1="625.4" y1="440.6" x2="622" y2="440.6" stroke="#f05050" stroke-width="0.9" />
<text x="629.4" y="443.1" font-size="7.8" fill="#f03c3c" text-anchor="start" >-0.5</text>
<line x1="625.4" y1="408.75" x2="622" y2="408.75" stroke="#f05050" stroke-width="0.9" />
<text x="629.4" y="411.25" font-size="7.8" fill="#f03c3c" text-anchor="start" >0.0</text>
<line x1="625.4" y1="376.9" x2="622" y2="376.9" stroke="#f05050" stroke-width="0.9" />
<text x="629.4" y="379.4" font-size="7.8" fill="#f03c3c" text-anchor="start" >0.5</text>
<line x1="625.4" y1="345.05" x2="622" y2="345.05" stroke="#f05050" stroke-width="0.9" />
<text x="629.4" y="347.55" font-size="7.8" fill="#f03c3c" text-anchor="start" >1.0</text>
<line x1="625.4" y1="313.2" x2="622" y2="313.2" stroke="#f05050" stroke-width="0.9" />
<text x="629.4" y="315.7" font-size="7.8" fill="#f03c3c" text-anchor="start" >1.5</text>
<line x1="625.4" y1="281.35" x2="622" y2="281.35" stroke="#f05050" stroke-width="0.9" />
<text x="629.4" y="283.85" font-size="7.8" fill="#f03c3c" text-anchor="start" >2.0</text>
<line x1="625.4" y1="249.5" x2="622" y2="249.5" stroke="#f05050" stroke-width="0.9" />
<text x="629.4" y="252" font-size="7.8" fill="#f03c3c" text-anchor="start" >2.5</text>
<line x1="625.4" y1="424.68" x2="623.7" y2="424.68" stroke="#f05050" stroke-width="0.9" />
<line x1="625.4" y1="392.83" x2="623.7" y2="392.83" stroke="#f05050" stroke-width="0.9" />
<line x1="625.4" y1="360.98" x2="623.7" y2="360.98" stroke="#f05050" stroke-width="0.9" />
<line x1="625.4" y1="329.12" x2="623.7" y2="329.12" stroke="#f05050" stroke-width="0.9" />
<line x1="625.4" y1="297.27" x2="623.7" y2="297.27" stroke="#f05050" stroke-width="0.9" />
<line x1="625.4" y1="265.43" x2="623.7" y2="265.43" stroke="#f05050" stroke-width="0.9" />
<line x1="657.3" y1="440.6" x2="653.9" y2="440.6" stroke="#80b598" stroke-width="0.9" />
<text x="661.3" y="443.1" font-size="7.8" fill="#8cbfa3" text-anchor="start" >0.0</text>
<line x1="657.3" y1="413.3" x2="653.9" y2="413.3" stroke="#80b598" stroke-width="0.9" />
<text x="661.3" y="415.8" font-size="7.8" fill="#8cbfa3" text-anchor="start" >0.5</text>
<line x1="657.3" y1="386" x2="653.9" y2="386" stroke="#80b598" stroke-width="0.9" />
<text x="661.3" y="388.5" font-size="7.8" fill="#8cbfa3" text-anchor="start" >1.0</text>
<line x1="657.3" y1="358.7" x2="653.9" y2="358.7" stroke="#80b598" stroke-width="0.9" />
<text x="661.3" y="361.2" font-size="7.8" fill="#8cbfa3" text-anchor="start" >1.5</text>
<line x1="657.3" y1="331.4" x2="653.9" y2="331.4" stroke="#80b598" stroke-width="0.9" />
<text x="661.3" y="333.9" font-size="7.8" fill="#8cbfa3" text-anchor="start" >2.0</text>
<line x1="657.3" y1="304.1" x2="653.9" y2="304.1" stroke="#80b598" stroke-width="0.9" />
<text x="661.3" y="306.6" font-size="7.8" fill="#8cbfa3" text-anchor="start" >2.5</text>
<line x1="657.3" y1="276.8" x2="653.9" y2="276.8" stroke="#80b598" stroke-width="0.9" />
<text x="661.3" y="279.3" font-size="7.8" fill="#8cbfa3" text-anchor="start" >3.0</text>
<line x1="657.3" y1="249.5" x2="653.9" y2="249.5" stroke="#80b598" stroke-width="0.9" />
<text x="661.3" y="252" font-size="7.8" fill="#8cbfa3" text-anchor="start" >3.5</text>
<line x1="657.3" y1="426.95" x2="655.6" y2="426.95" stroke="#80b598" stroke-width="0.9" />
<line x1="657.3" y1="399.65" x2="655.6" y2="399.65" stroke="#80b598" stroke-width="0.9" />
<line x1="657.3" y1="372.35" x2="655.6" y2="372.35" stroke="#80b598" stroke-width="0.9" />
<line x1="657.3" y1="345.05" x2="655.6" y2="345.05" stroke="#80b598" stroke-width="0.9" />
<line x1="657.3" y1="317.75" x2="655.6" y2="317.75" stroke="#80b598" stroke-width="0.9" />
<line x1="657.3" y1="290.45" x2="655.6" y2="290.45" stroke="#80b598" stroke-width="0.9" />
<line x1="657.3" y1="263.15" x2="655.6" y2="263.15" stroke="#80b598" stroke-width="0.9" />
<text x="355.8" y="345" font-size="9.4" fill="#000" text-anchor="middle" transform="rotate(-90 355.8 345)">Stresses(MPa)</text>
<text x="500.2" y="460.2" font-size="9" fill="#000" text-anchor="middle" >Time(s)</text>
<text x="651" y="345" font-size="9.1" fill="#f03c3c" text-anchor="middle" transform="rotate(-90 651 345)">Count correlation dimension <tspan font-style="italic">D</tspan></text>
<text x="683" y="343.6" font-size="9.1" fill="#8cbfa3" text-anchor="middle" transform="rotate(-90 683 343.6)">Energy correlation dimension <tspan font-style="italic">D</tspan></text>
<polyline fill="none" stroke="#3c3c3c" stroke-width="1.5" stroke-linejoin="round" points="374.7,358.6 388.7,345.3 400.4,331.3 412.1,316.1 421.4,305.6 430.7,298.1 440.1,291.5 449.4,284.5 458.8,279.4 465.8,277.1 470,276.4 474,277.5 478.6,278.2 486.8,279.2 496.2,281.5 500,283.3 503.8,285.2 508.5,289.9 515.2,293.7 520.9,297.5 523.7,301.9 532.3,310.8 541.7,316.9 551.2,319.3 562.6,321.6 572.1,324.5 583.5,329.2 594.9,332.6 606.3,336.4 622.4,342.1"/>
<line x1="383.68" y1="363.69" x2="389.21" y2="347.81" stroke="#f03c3c" stroke-width="1.4" stroke-linecap="butt"/>
<line x1="392.51" y1="341.73" x2="396.05" y2="337.17" stroke="#f03c3c" stroke-width="1.4" stroke-linecap="butt"/>
<line x1="399.41" y1="337.68" x2="404.81" y2="352.22" stroke="#f03c3c" stroke-width="1.4" stroke-linecap="butt"/>
<line x1="407.71" y1="352.43" x2="412.18" y2="344.27" stroke="#f03c3c" stroke-width="1.4" stroke-linecap="butt"/>
<line x1="415.26" y1="344.41" x2="420.3" y2="355.99" stroke="#f03c3c" stroke-width="1.4" stroke-linecap="butt"/>
<line x1="424.64" y1="361.08" x2="426.57" y2="362.32" stroke="#f03c3c" stroke-width="1.4" stroke-linecap="butt"/>
<line x1="430.46" y1="360.83" x2="436.42" y2="339.47" stroke="#f03c3c" stroke-width="1.4" stroke-linecap="butt"/>
<line x1="440.62" y1="337.35" x2="441.92" y2="337.85" stroke="#f03c3c" stroke-width="1.4" stroke-linecap="butt"/>
<line x1="447.53" y1="336.5" x2="450.68" y2="333" stroke="#f03c3c" stroke-width="1.4" stroke-linecap="butt"/>
<line x1="454.56" y1="327.26" x2="459.31" y2="317.54" stroke="#f03c3c" stroke-width="1.4" stroke-linecap="butt"/>
<line x1="462.34" y1="317.57" x2="467.2" y2="327.93" stroke="#f03c3c" stroke-width="1.4" stroke-linecap="butt"/>
<line x1="469.96" y1="334.36" x2="475.24" y2="347.84" stroke="#f03c3c" stroke-width="1.4" stroke-linecap="butt"/>
<line x1="477.4" y1="347.71" x2="483.46" y2="324.49" stroke="#f03c3c" stroke-width="1.4" stroke-linecap="butt"/>
<line x1="486.51" y1="323.86" x2="490.02" y2="328.34" stroke="#f03c3c" stroke-width="1.4" stroke-linecap="butt"/>
<line x1="493.33" y1="327.79" x2="498.86" y2="311.91" stroke="#f03c3c" stroke-width="1.4" stroke-linecap="butt"/>
<line x1="501.25" y1="311.87" x2="506.61" y2="326.03" stroke="#f03c3c" stroke-width="1.4" stroke-linecap="butt"/>
<line x1="508.77" y1="332.67" x2="514.75" y2="354.43" stroke="#f03c3c" stroke-width="1.4" stroke-linecap="butt"/>
<line x1="517.19" y1="360.95" x2="521.99" y2="370.95" stroke="#f03c3c" stroke-width="1.4" stroke-linecap="butt"/>
<line x1="524.09" y1="370.65" x2="530.76" y2="331.25" stroke="#f03c3c" stroke-width="1.4" stroke-linecap="butt"/>
<line x1="534.57" y1="326.44" x2="535.95" y2="325.86" stroke="#f03c3c" stroke-width="1.4" stroke-linecap="butt"/>
<line x1="540.44" y1="327.76" x2="545.74" y2="341.44" stroke="#f03c3c" stroke-width="1.4" stroke-linecap="butt"/>
<line x1="550.46" y1="345.27" x2="551.38" y2="345.43" stroke="#f03c3c" stroke-width="1.4" stroke-linecap="butt"/>
<line x1="557.92" y1="344.35" x2="559.58" y2="343.45" stroke="#f03c3c" stroke-width="1.4" stroke-linecap="butt"/>
<line x1="563.7" y1="338.46" x2="569.47" y2="319.74" stroke="#f03c3c" stroke-width="1.4" stroke-linecap="butt"/>
<line x1="572.42" y1="319.32" x2="576.41" y2="325.38" stroke="#f03c3c" stroke-width="1.4" stroke-linecap="butt"/>
<line x1="580.64" y1="330.93" x2="583.85" y2="334.57" stroke="#f03c3c" stroke-width="1.4" stroke-linecap="butt"/>
<line x1="589.54" y1="336.29" x2="590.62" y2="336.01" stroke="#f03c3c" stroke-width="1.4" stroke-linecap="butt"/>
<line x1="597.4" y1="334.27" x2="598.43" y2="334.03" stroke="#f03c3c" stroke-width="1.4" stroke-linecap="butt"/>
<line x1="603.53" y1="336.26" x2="607.96" y2="344.24" stroke="#f03c3c" stroke-width="1.4" stroke-linecap="butt"/>
<path d="M379.48 367L382.53 363.95L385.58 367Z" fill="#f03c3c"/>
<path d="M379.48 367L382.53 363.95L385.58 367L382.53 370.05Z" fill="none" stroke="#f03c3c" stroke-width="0.9"/>
<path d="M387.31 344.5L390.36 341.45L393.41 344.5Z" fill="#f03c3c"/>
<path d="M387.31 344.5L390.36 341.45L393.41 344.5L390.36 347.55Z" fill="none" stroke="#f03c3c" stroke-width="0.9"/>
<path d="M395.15 334.4L398.2 331.35L401.25 334.4Z" fill="#f03c3c"/>
<path d="M395.15 334.4L398.2 331.35L401.25 334.4L398.2 337.45Z" fill="none" stroke="#f03c3c" stroke-width="0.9"/>
<path d="M402.98 355.5L406.03 352.45L409.08 355.5Z" fill="#f03c3c"/>
<path d="M402.98 355.5L406.03 352.45L409.08 355.5L406.03 358.55Z" fill="none" stroke="#f03c3c" stroke-width="0.9"/>
<path d="M410.81 341.2L413.86 338.15L416.91 341.2Z" fill="#f03c3c"/>
<path d="M410.81 341.2L413.86 338.15L416.91 341.2L413.86 344.25Z" fill="none" stroke="#f03c3c" stroke-width="0.9"/>
<path d="M418.64 359.2L421.69 356.15L424.74 359.2Z" fill="#f03c3c"/>
<path d="M418.64 359.2L421.69 356.15L424.74 359.2L421.69 362.25Z" fill="none" stroke="#f03c3c" stroke-width="0.9"/>
<path d="M426.47 364.2L429.52 361.15L432.57 364.2Z" fill="#f03c3c"/>
<path d="M426.47 364.2L429.52 361.15L432.57 364.2L429.52 367.25Z" fill="none" stroke="#f03c3c" stroke-width="0.9"/>
<path d="M434.31 336.1L437.36 333.05L440.41 336.1Z" fill="#f03c3c"/>
<path d="M434.31 336.1L437.36 333.05L440.41 336.1L437.36 339.15Z" fill="none" stroke="#f03c3c" stroke-width="0.9"/>
<path d="M442.14 339.1L445.19 336.05L448.24 339.1Z" fill="#f03c3c"/>
<path d="M442.14 339.1L445.19 336.05L448.24 339.1L445.19 342.15Z" fill="none" stroke="#f03c3c" stroke-width="0.9"/>
<path d="M449.97 330.4L453.02 327.35L456.07 330.4Z" fill="#f03c3c"/>
<path d="M449.97 330.4L453.02 327.35L456.07 330.4L453.02 333.45Z" fill="none" stroke="#f03c3c" stroke-width="0.9"/>
<path d="M457.8 314.4L460.85 311.35L463.9 314.4Z" fill="#f03c3c"/>
<path d="M457.8 314.4L460.85 311.35L463.9 314.4L460.85 317.45Z" fill="none" stroke="#f03c3c" stroke-width="0.9"/>
<path d="M465.63 331.1L468.68 328.05L471.73 331.1Z" fill="#f03c3c"/>
<path d="M465.63 331.1L468.68 328.05L471.73 331.1L468.68 334.15Z" fill="none" stroke="#f03c3c" stroke-width="0.9"/>
<path d="M473.47 351.1L476.52 348.05L479.57 351.1Z" fill="#f03c3c"/>
<path d="M473.47 351.1L476.52 348.05L479.57 351.1L476.52 354.15Z" fill="none" stroke="#f03c3c" stroke-width="0.9"/>
<path d="M481.3 321.1L484.35 318.05L487.4 321.1Z" fill="#f03c3c"/>
<path d="M481.3 321.1L484.35 318.05L487.4 321.1L484.35 324.15Z" fill="none" stroke="#f03c3c" stroke-width="0.9"/>
<path d="M489.13 331.1L492.18 328.05L495.23 331.1Z" fill="#f03c3c"/>
<path d="M489.13 331.1L492.18 328.05L495.23 331.1L492.18 334.15Z" fill="none" stroke="#f03c3c" stroke-width="0.9"/>
<path d="M496.96 308.6L500.01 305.55L503.06 308.6Z" fill="#f03c3c"/>
<path d="M496.96 308.6L500.01 305.55L503.06 308.6L500.01 311.65Z" fill="none" stroke="#f03c3c" stroke-width="0.9"/>
<path d="M504.79 329.3L507.84 326.25L510.89 329.3Z" fill="#f03c3c"/>
<path d="M504.79 329.3L507.84 326.25L510.89 329.3L507.84 332.35Z" fill="none" stroke="#f03c3c" stroke-width="0.9"/>
<path d="M512.63 357.8L515.68 354.75L518.73 357.8Z" fill="#f03c3c"/>
<path d="M512.63 357.8L515.68 354.75L518.73 357.8L515.68 360.85Z" fill="none" stroke="#f03c3c" stroke-width="0.9"/>
<path d="M520.46 374.1L523.51 371.05L526.56 374.1Z" fill="#f03c3c"/>
<path d="M520.46 374.1L523.51 371.05L526.56 374.1L523.51 377.15Z" fill="none" stroke="#f03c3c" stroke-width="0.9"/>
<path d="M528.29 327.8L531.34 324.75L534.39 327.8Z" fill="#f03c3c"/>
<path d="M528.29 327.8L531.34 324.75L534.39 327.8L531.34 330.85Z" fill="none" stroke="#f03c3c" stroke-width="0.9"/>
<path d="M536.12 324.5L539.17 321.45L542.22 324.5Z" fill="#f03c3c"/>
<path d="M536.12 324.5L539.17 321.45L542.22 324.5L539.17 327.55Z" fill="none" stroke="#f03c3c" stroke-width="0.9"/>
<path d="M543.95 344.7L547 341.65L550.05 344.7Z" fill="#f03c3c"/>
<path d="M543.95 344.7L547 341.65L550.05 344.7L547 347.75Z" fill="none" stroke="#f03c3c" stroke-width="0.9"/>
<path d="M551.79 346L554.84 342.95L557.89 346Z" fill="#f03c3c"/>
<path d="M551.79 346L554.84 342.95L557.89 346L554.84 349.05Z" fill="none" stroke="#f03c3c" stroke-width="0.9"/>
<path d="M559.62 341.8L562.67 338.75L565.72 341.8Z" fill="#f03c3c"/>
<path d="M559.62 341.8L562.67 338.75L565.72 341.8L562.67 344.85Z" fill="none" stroke="#f03c3c" stroke-width="0.9"/>
<path d="M567.45 316.4L570.5 313.35L573.55 316.4Z" fill="#f03c3c"/>
<path d="M567.45 316.4L570.5 313.35L573.55 316.4L570.5 319.45Z" fill="none" stroke="#f03c3c" stroke-width="0.9"/>
<path d="M575.28 328.3L578.33 325.25L581.38 328.3Z" fill="#f03c3c"/>
<path d="M575.28 328.3L578.33 325.25L581.38 328.3L578.33 331.35Z" fill="none" stroke="#f03c3c" stroke-width="0.9"/>
<path d="M583.11 337.2L586.16 334.15L589.21 337.2Z" fill="#f03c3c"/>
<path d="M583.11 337.2L586.16 334.15L589.21 337.2L586.16 340.25Z" fill="none" stroke="#f03c3c" stroke-width="0.9"/>
<path d="M590.95 335.1L594 332.05L597.05 335.1Z" fill="#f03c3c"/>
<path d="M590.95 335.1L594 332.05L597.05 335.1L594 338.15Z" fill="none" stroke="#f03c3c" stroke-width="0.9"/>
<path d="M598.78 333.2L601.83 330.15L604.88 333.2Z" fill="#f03c3c"/>
<path d="M598.78 333.2L601.83 330.15L604.88 333.2L601.83 336.25Z" fill="none" stroke="#f03c3c" stroke-width="0.9"/>
<path d="M606.61 347.3L609.66 344.25L612.71 347.3Z" fill="#f03c3c"/>
<path d="M606.61 347.3L609.66 344.25L612.71 347.3L609.66 350.35Z" fill="none" stroke="#f03c3c" stroke-width="0.9"/>
<line x1="383.95" y1="382.61" x2="388.94" y2="371.79" stroke="#6fa98b" stroke-width="1.45" stroke-linecap="butt"/>
<line x1="392.37" y1="371.44" x2="396.19" y2="376.66" stroke="#6fa98b" stroke-width="1.45" stroke-linecap="butt"/>
<line x1="401.37" y1="380.62" x2="402.85" y2="381.18" stroke="#6fa98b" stroke-width="1.45" stroke-linecap="butt"/>
<line x1="407.13" y1="379.18" x2="412.76" y2="362.72" stroke="#6fa98b" stroke-width="1.45" stroke-linecap="butt"/>
<line x1="414.66" y1="362.8" x2="420.89" y2="388.6" stroke="#6fa98b" stroke-width="1.45" stroke-linecap="butt"/>
<line x1="422.36" y1="395.23" x2="428.86" y2="427.77" stroke="#6fa98b" stroke-width="1.45" stroke-linecap="butt"/>
<line x1="431.14" y1="428.11" x2="435.74" y2="419.59" stroke="#6fa98b" stroke-width="1.45" stroke-linecap="butt"/>
<line x1="439.86" y1="414.3" x2="442.68" y2="411.7" stroke="#6fa98b" stroke-width="1.45" stroke-linecap="butt"/>
<line x1="446.33" y1="406.2" x2="451.88" y2="390.6" stroke="#6fa98b" stroke-width="1.45" stroke-linecap="butt"/>
<line x1="455.67" y1="389.53" x2="458.2" y2="391.57" stroke="#6fa98b" stroke-width="1.45" stroke-linecap="butt"/>
<line x1="463.63" y1="391.75" x2="465.9" y2="390.15" stroke="#6fa98b" stroke-width="1.45" stroke-linecap="butt"/>
<line x1="470.07" y1="385.1" x2="475.13" y2="373.8" stroke="#6fa98b" stroke-width="1.45" stroke-linecap="butt"/>
<line x1="477.92" y1="373.79" x2="482.94" y2="384.81" stroke="#6fa98b" stroke-width="1.45" stroke-linecap="butt"/>
<line x1="487.67" y1="387.18" x2="488.86" y2="386.92" stroke="#6fa98b" stroke-width="1.45" stroke-linecap="butt"/>
<line x1="495.57" y1="386.42" x2="496.62" y2="386.48" stroke="#6fa98b" stroke-width="1.45" stroke-linecap="butt"/>
<line x1="502.91" y1="384.92" x2="504.95" y2="383.68" stroke="#6fa98b" stroke-width="1.45" stroke-linecap="butt"/>
<line x1="508.96" y1="378.69" x2="514.56" y2="362.61" stroke="#6fa98b" stroke-width="1.45" stroke-linecap="butt"/>
<line x1="519.03" y1="358.84" x2="520.15" y2="358.66" stroke="#6fa98b" stroke-width="1.45" stroke-linecap="butt"/>
<line x1="524.12" y1="361.44" x2="530.73" y2="397.46" stroke="#6fa98b" stroke-width="1.45" stroke-linecap="butt"/>
<line x1="532.78" y1="403.88" x2="537.73" y2="414.42" stroke="#6fa98b" stroke-width="1.45" stroke-linecap="butt"/>
<line x1="540.44" y1="414.35" x2="545.73" y2="401.25" stroke="#6fa98b" stroke-width="1.45" stroke-linecap="butt"/>
<line x1="550.22" y1="396.99" x2="551.62" y2="396.51" stroke="#6fa98b" stroke-width="1.45" stroke-linecap="butt"/>
<line x1="555.75" y1="392.13" x2="561.75" y2="370.77" stroke="#6fa98b" stroke-width="1.45" stroke-linecap="butt"/>
<line x1="563.63" y1="370.76" x2="569.54" y2="390.74" stroke="#6fa98b" stroke-width="1.45" stroke-linecap="butt"/>
<line x1="573.6" y1="395.39" x2="575.23" y2="396.11" stroke="#6fa98b" stroke-width="1.45" stroke-linecap="butt"/>
<line x1="579.11" y1="394.19" x2="585.38" y2="367.61" stroke="#6fa98b" stroke-width="1.45" stroke-linecap="butt"/>
<line x1="589.44" y1="363.38" x2="590.72" y2="363.02" stroke="#6fa98b" stroke-width="1.45" stroke-linecap="butt"/>
<line x1="594.69" y1="365.43" x2="601.13" y2="396.07" stroke="#6fa98b" stroke-width="1.45" stroke-linecap="butt"/>
<line x1="602.99" y1="396.2" x2="608.5" y2="381" stroke="#6fa98b" stroke-width="1.45" stroke-linecap="butt"/>
<circle cx="382.53" cy="385.7" r="2.6" fill="#fff" stroke="#6fa98b" stroke-width="0.9"/>
<path d="M379.93 386.1A2.6 2.6 0 0 1 385.13 386.1Z" fill="#6fa98b"/>
<circle cx="390.36" cy="368.7" r="2.6" fill="#fff" stroke="#6fa98b" stroke-width="0.9"/>
<path d="M387.76 369.1A2.6 2.6 0 0 1 392.96 369.1Z" fill="#6fa98b"/>
<circle cx="398.2" cy="379.4" r="2.6" fill="#fff" stroke="#6fa98b" stroke-width="0.9"/>
<path d="M395.6 379.8A2.6 2.6 0 0 1 400.8 379.8Z" fill="#6fa98b"/>
<circle cx="406.03" cy="382.4" r="2.6" fill="#fff" stroke="#6fa98b" stroke-width="0.9"/>
<path d="M403.43 382.8A2.6 2.6 0 0 1 408.63 382.8Z" fill="#6fa98b"/>
<circle cx="413.86" cy="359.5" r="2.6" fill="#fff" stroke="#6fa98b" stroke-width="0.9"/>
<path d="M411.26 359.9A2.6 2.6 0 0 1 416.46 359.9Z" fill="#6fa98b"/>
<circle cx="421.69" cy="391.9" r="2.6" fill="#fff" stroke="#6fa98b" stroke-width="0.9"/>
<path d="M419.09 392.3A2.6 2.6 0 0 1 424.29 392.3Z" fill="#6fa98b"/>
<circle cx="429.52" cy="431.1" r="2.6" fill="#fff" stroke="#6fa98b" stroke-width="0.9"/>
<path d="M426.92 431.5A2.6 2.6 0 0 1 432.12 431.5Z" fill="#6fa98b"/>
<circle cx="437.36" cy="416.6" r="2.6" fill="#fff" stroke="#6fa98b" stroke-width="0.9"/>
<path d="M434.76 417A2.6 2.6 0 0 1 439.96 417Z" fill="#6fa98b"/>
<circle cx="445.19" cy="409.4" r="2.6" fill="#fff" stroke="#6fa98b" stroke-width="0.9"/>
<path d="M442.59 409.8A2.6 2.6 0 0 1 447.79 409.8Z" fill="#6fa98b"/>
<circle cx="453.02" cy="387.4" r="2.6" fill="#fff" stroke="#6fa98b" stroke-width="0.9"/>
<path d="M450.42 387.8A2.6 2.6 0 0 1 455.62 387.8Z" fill="#6fa98b"/>
<circle cx="460.85" cy="393.7" r="2.6" fill="#fff" stroke="#6fa98b" stroke-width="0.9"/>
<path d="M458.25 394.1A2.6 2.6 0 0 1 463.45 394.1Z" fill="#6fa98b"/>
<circle cx="468.68" cy="388.2" r="2.6" fill="#fff" stroke="#6fa98b" stroke-width="0.9"/>
<path d="M466.08 388.6A2.6 2.6 0 0 1 471.28 388.6Z" fill="#6fa98b"/>
<circle cx="476.52" cy="370.7" r="2.6" fill="#fff" stroke="#6fa98b" stroke-width="0.9"/>
<path d="M473.92 371.1A2.6 2.6 0 0 1 479.12 371.1Z" fill="#6fa98b"/>
<circle cx="484.35" cy="387.9" r="2.6" fill="#fff" stroke="#6fa98b" stroke-width="0.9"/>
<path d="M481.75 388.3A2.6 2.6 0 0 1 486.95 388.3Z" fill="#6fa98b"/>
<circle cx="492.18" cy="386.2" r="2.6" fill="#fff" stroke="#6fa98b" stroke-width="0.9"/>
<path d="M489.58 386.6A2.6 2.6 0 0 1 494.78 386.6Z" fill="#6fa98b"/>
<circle cx="500.01" cy="386.7" r="2.6" fill="#fff" stroke="#6fa98b" stroke-width="0.9"/>
<path d="M497.41 387.1A2.6 2.6 0 0 1 502.61 387.1Z" fill="#6fa98b"/>
<circle cx="507.84" cy="381.9" r="2.6" fill="#fff" stroke="#6fa98b" stroke-width="0.9"/>
<path d="M505.24 382.3A2.6 2.6 0 0 1 510.44 382.3Z" fill="#6fa98b"/>
<circle cx="515.68" cy="359.4" r="2.6" fill="#fff" stroke="#6fa98b" stroke-width="0.9"/>
<path d="M513.08 359.8A2.6 2.6 0 0 1 518.28 359.8Z" fill="#6fa98b"/>
<circle cx="523.51" cy="358.1" r="2.6" fill="#fff" stroke="#6fa98b" stroke-width="0.9"/>
<path d="M520.91 358.5A2.6 2.6 0 0 1 526.11 358.5Z" fill="#6fa98b"/>
<circle cx="531.34" cy="400.8" r="2.6" fill="#fff" stroke="#6fa98b" stroke-width="0.9"/>
<path d="M528.74 401.2A2.6 2.6 0 0 1 533.94 401.2Z" fill="#6fa98b"/>
<circle cx="539.17" cy="417.5" r="2.6" fill="#fff" stroke="#6fa98b" stroke-width="0.9"/>
<path d="M536.57 417.9A2.6 2.6 0 0 1 541.77 417.9Z" fill="#6fa98b"/>
<circle cx="547" cy="398.1" r="2.6" fill="#fff" stroke="#6fa98b" stroke-width="0.9"/>
<path d="M544.4 398.5A2.6 2.6 0 0 1 549.6 398.5Z" fill="#6fa98b"/>
<circle cx="554.84" cy="395.4" r="2.6" fill="#fff" stroke="#6fa98b" stroke-width="0.9"/>
<path d="M552.24 395.8A2.6 2.6 0 0 1 557.44 395.8Z" fill="#6fa98b"/>
<circle cx="562.67" cy="367.5" r="2.6" fill="#fff" stroke="#6fa98b" stroke-width="0.9"/>
<path d="M560.07 367.9A2.6 2.6 0 0 1 565.27 367.9Z" fill="#6fa98b"/>
<circle cx="570.5" cy="394" r="2.6" fill="#fff" stroke="#6fa98b" stroke-width="0.9"/>
<path d="M567.9 394.4A2.6 2.6 0 0 1 573.1 394.4Z" fill="#6fa98b"/>
<circle cx="578.33" cy="397.5" r="2.6" fill="#fff" stroke="#6fa98b" stroke-width="0.9"/>
<path d="M575.73 397.9A2.6 2.6 0 0 1 580.93 397.9Z" fill="#6fa98b"/>
<circle cx="586.16" cy="364.3" r="2.6" fill="#fff" stroke="#6fa98b" stroke-width="0.9"/>
<path d="M583.56 364.7A2.6 2.6 0 0 1 588.76 364.7Z" fill="#6fa98b"/>
<circle cx="594" cy="362.1" r="2.6" fill="#fff" stroke="#6fa98b" stroke-width="0.9"/>
<path d="M591.4 362.5A2.6 2.6 0 0 1 596.6 362.5Z" fill="#6fa98b"/>
<circle cx="601.83" cy="399.4" r="2.6" fill="#fff" stroke="#6fa98b" stroke-width="0.9"/>
<path d="M599.23 399.8A2.6 2.6 0 0 1 604.43 399.8Z" fill="#6fa98b"/>
<circle cx="609.66" cy="377.8" r="2.6" fill="#fff" stroke="#6fa98b" stroke-width="0.9"/>
<path d="M607.06 378.2A2.6 2.6 0 0 1 612.26 378.2Z" fill="#6fa98b"/>
<line x1="430.4" y1="298.5" x2="430.4" y2="431" stroke="#111" stroke-width="1.55" stroke-dasharray="5.8 5.8"/>
<line x1="430.3" y1="298.6" x2="415.17" y2="291" stroke="#000" stroke-width="0.6" />
<path d="M411.6 289.2L415.89 289.57L414.46 292.43Z" fill="#000"/>
<text x="386.9" y="286.9" font-size="12.5" fill="#000" text-anchor="start" >86.21%</text>
<ellipse cx="472.8" cy="279.9" rx="16.8" ry="11.25" fill="none" stroke="#ee1c1c" stroke-width="2.1" stroke-dasharray="9.5 3.6 1.6 3.6"/>
<ellipse cx="474.5" cy="369" rx="12.2" ry="65.3" fill="none" stroke="#3cb4f0" stroke-width="1.9" stroke-dasharray="9 3.2 1.6 3.2"/>
<line x1="391.9" y1="258.2" x2="425.4" y2="258.2" stroke="#3c3c3c" stroke-width="1.3" />
<text x="430.4" y="261.2" font-size="8.8" fill="#000" text-anchor="start" >Stresses</text>
<line x1="459.8" y1="258.2" x2="494.8" y2="258.2" stroke="#f03c3c" stroke-width="1.2" />
<path d="M474.95 258.2L478 255.15L481.05 258.2Z" fill="#f03c3c"/>
<path d="M474.95 258.2L478 255.15L481.05 258.2L478 261.25Z" fill="none" stroke="#f03c3c" stroke-width="0.9"/>
<text x="498.5" y="261.2" font-size="8.8" fill="#000" text-anchor="start" >Count <tspan font-style="italic">D</tspan></text>
<line x1="533.8" y1="258.2" x2="567.5" y2="258.2" stroke="#6fa98b" stroke-width="1.3" />
<circle cx="550.5" cy="258.2" r="2.2" fill="#fff" stroke="#6fa98b" stroke-width="0.9"/>
<path d="M548.3 258.6A2.2 2.2 0 0 1 552.7 258.6Z" fill="#6fa98b"/>
<text x="572.4" y="261.2" font-size="8.8" fill="#000" text-anchor="start" >Energy <tspan font-style="italic">D</tspan></text>
<text x="476.6" y="477.7" font-size="14.5" fill="#000" text-anchor="start" font-weight="bold" >(d)</text>
<text x="507.1" y="477.7" font-size="14.6" fill="#000" text-anchor="start" font-weight="bold" >RCR-4</text>
</svg>
</body></html>
